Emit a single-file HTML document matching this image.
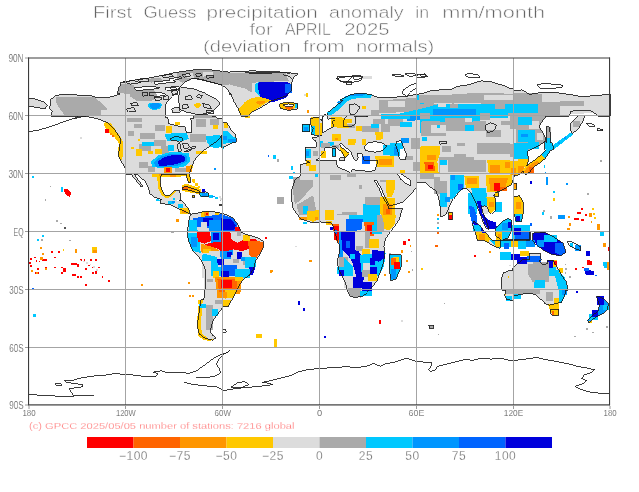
<!DOCTYPE html>
<html><head><meta charset="utf-8"><style>
html,body{margin:0;padding:0;background:#fff;width:639px;height:492px;overflow:hidden}
svg{display:block;will-change:transform}
text{font-family:"Liberation Sans",sans-serif}
</style></head><body>
<svg width="639" height="492" viewBox="0 0 639 492">
<g id="title" fill="#666" stroke="#fff" stroke-width="0.5" font-size="15.6">
<text x="93.10" y="17.5" textLength="39.00" lengthAdjust="spacingAndGlyphs">First</text>
<text x="143.50" y="17.5" textLength="53.00" lengthAdjust="spacingAndGlyphs">Guess</text>
<text x="206.50" y="17.5" textLength="111.20" lengthAdjust="spacingAndGlyphs">precipitation</text>
<text x="329.10" y="17.5" textLength="74.60" lengthAdjust="spacingAndGlyphs">anomaly</text>
<text x="415.30" y="17.5" textLength="13.80" lengthAdjust="spacingAndGlyphs">in</text>
<text x="442.30" y="17.5" textLength="102.80" lengthAdjust="spacingAndGlyphs">mm/month</text>
<text x="249.50" y="34.6" textLength="23.00" lengthAdjust="spacingAndGlyphs">for</text>
<text x="284.90" y="34.6" textLength="46.00" lengthAdjust="spacingAndGlyphs">APRIL</text>
<text x="344.30" y="34.6" textLength="45.20" lengthAdjust="spacingAndGlyphs">2025</text>
<text x="202.90" y="52.1" textLength="87.80" lengthAdjust="spacingAndGlyphs">(deviation</text>
<text x="303.10" y="52.1" textLength="41.40" lengthAdjust="spacingAndGlyphs">from</text>
<text x="355.90" y="52.1" textLength="78.40" lengthAdjust="spacingAndGlyphs">normals)</text>
</g>
<g id="map" shape-rendering="crispEdges">
<path fill="#dcdcdc" d="M28,105.8 34.1,106.9 40.1,108.4 45,109 47.4,105.4 44.7,102.3 40.1,100.8 34.1,98.7 28,97.8Z"/>
<path fill="#dcdcdc" d="M97.8,97.8 90.2,95.4 82.6,95.4 73.5,94.9 64.4,94.1 56.1,95.4 50.8,99.3 50.8,103.5 49.3,108.1 52.3,111.1 50.8,116 120,116 120,94.3 119.1,94.4 113,96 106.9,97.8Z"/>
<path fill="#aaaaaa" d="M56.1,102 58.4,106.6 65.2,116 100.9,116 100.9,110.4 106.9,110.4 106.9,108.1 94.8,97.2 56.1,97.2Z"/>
<path fill="#dcdcdc" d="M120,86.1 119.1,86.8 117.3,93.2 120,93.2Z"/>
<path fill="#aaaaaa" d="M120,86.4 119.1,87.2 117.9,92.6 120,92.6Z"/>
<path fill="#dcdcdc" d="M267.5,103.5 272.1,100.5 285.8,96 291.8,89.9 291.8,82.3 293.3,77.7 297.9,73.9 285.8,72.4 267.5,71.4 252.4,70.9 237.2,71.4 230,71.9 230,91.9 231.1,94.4 234.1,102 237.9,108.1 241,116 247.8,116 252.4,111.9 259.9,108.1Z"/>
<path fill="#aaaaaa" d="M230,84.8 244.8,88.4 252.4,92.9 252.4,83.5 256.9,82.3 288.8,80.8 285.8,73.2 230,73.2Z"/>
<path fill="#00c8ff" d="M267.5,81.5 258.4,82 254.6,84.6 255.4,91.4 259.9,96 267.5,94.4Z"/>
<path fill="#0000dc" d="M257.7,83.1 258.4,89.9 260.7,97.8 266,102 272.1,102.3 285.8,97.8 292.1,89.9 292.1,84.6 285.8,81.5 261.5,81.5Z"/>
<path fill="#0064ff" d="M291.8,92.9 291.8,83.8 285,83.8 285,92.9Z"/>
<path fill="#ffc800" d="M244.8,102 238.4,109.6 240.5,116 248.1,116 252.4,111.4 259.9,106.9 267.5,102.3 270.9,100.5 264.5,97.8 258.4,97.2 252.4,97.8Z"/>
<path fill="#ff9600" d="M255.4,102.3 259.2,104.8 264.5,103.2 266,100.5 259.9,100.5Z"/>
<path fill="#dcdcdc" d="M297.9,103.5 288.8,102.3 279.7,103.5 280.4,108.4 288.8,110.4 297.9,108.9Z"/>
<path fill="#ffc800" d="M296.4,103.5 288.8,102.3 279.7,103.5 280.4,108.4 288.8,110.4 294.9,108.1Z"/>
<path fill="#ffffff" d="M282.7,104.8 285.8,106.9 291.8,106.9 294.1,104.8 288.8,103.9Z"/>
<path fill="#ff6400" d="M294.6,108.1 291.8,106.6 284.2,107.3 288.8,109.9Z"/>
<path fill="#00c8ff" d="M297.9,108.1 297.9,104.3 294.9,103.9 295.2,108.1Z"/>
<path fill="#ffc800" d="M308.1,96.7 308.1,92.9 305.9,92.9 305.9,96.7Z"/>
<path fill="#dcdcdc" d="M305.9,96.3 305.9,94.1 303.7,94.1 303.7,96.3Z"/>
<path fill="#dcdcdc" d="M372.1,78.5 372.1,75.9 361.5,75.9 361.5,78.5Z"/>
<path fill="#dcdcdc" d="M350.9,94.4 339.8,100 416,100 416,94.4 404,96.7 397.9,96.7 388.8,97.5 379.7,97.8 372.1,95.2 361.5,93.2Z"/>
<path fill="#00c8ff" d="M350.9,94.1 339.2,100 350.4,100 352.4,99 361.5,97.8 370.6,97.8 372.1,94.4 361.5,92.9Z"/>
<path fill="#0096ff" d="M361.5,92.9 350.9,94.1 344.8,96.7 352.4,96.3 361.5,96 366.1,94.1Z"/>
<path fill="#aaaaaa" d="M388.7,100 416,100 416,97.8 388.8,99.8Z"/>
<path fill="#dcdcdc" d="M449.4,89.9 440.3,89.9 431.2,90.6 425.1,92.9 416,94.4 416,100 420,100 420,116 513,116 513,88.1 508.6,88.1 502.5,85.3 491.9,82 481.3,80.8 469.1,84.6 458.5,86.1Z"/>
<path fill="#aaaaaa" d="M416,100 420,100 420,116 513,116 513,93.7 476.7,92.9 452.4,94.4 452.4,103.5 434.2,103.5 425.1,97.8 416,97.8Z"/>
<path fill="#dcdcdc" d="M481.3,103.5 479.8,96 453.9,96.7 453.9,103.5Z"/>
<path fill="#dcdcdc" d="M482.8,95.2 482.8,102 507.1,105.1 513,103.5 513,95.2Z"/>
<path fill="#00c8ff" d="M420,100 420,103.5 423.6,103.5 422.1,95.2 416,95.2 416,100Z"/>
<path fill="#00c8ff" d="M426.6,111.1 429.7,116 473.7,116 482.8,109.6 484.3,104.3 469.1,103.5 453.9,104.8 440.3,103.5 429.7,106.6Z"/>
<path fill="#0096ff" d="M476.7,116 476.7,109.6 446.4,110.4 446.4,116Z"/>
<path fill="#00c8ff" d="M504,116 501,110.4 488.9,111.1 488.9,116Z"/>
<path fill="#00c8ff" d="M513,106.6 513,102 507.1,102.8 507.1,106.6Z"/>
<path fill="#dcdcdc" d="M591.9,96 581.3,96.7 573.7,95.2 563.1,93.7 552.5,92.2 543.4,92.2 529.7,94.4 522.1,89.9 513,90.6 513,116 569.2,116 570.7,111.1 584.3,110.4 591.9,111.1 598,116 610,116 610,94.4 601,95.2Z"/>
<path fill="#aaaaaa" d="M560.1,116 560.1,108.1 585.9,108.1 585.9,100.8 541.8,102 541.8,93.7 513,92.6 513,116Z"/>
<path fill="#00c8ff" d="M523.6,111.9 531.2,111.1 536.5,106.6 537.3,102.8 513,102.8 513,105.1 520.6,106.6Z"/>
<path fill="#dcdcdc" d="M125,118 120,118 120,116 80.5,116 89.3,117.1 98.1,118.9 106.9,122.4 115.7,131 120.7,139.2 119.5,146.5 118.3,156.2 124.4,167.2 125,167.6Z"/>
<path fill="#ffc800" d="M121.4,138.8 115.3,129.7 110.7,122.8 104.7,122.1 103.9,125.1 106.9,130.4 114.5,137.3 119.1,143.3 118,149.4 118.8,158.5 121.8,160 123.3,154 123.3,142.6Z"/>
<path fill="#ff0000" d="M108.5,133 108.5,129.4 105,129.4 105,133Z"/>
<path fill="#ff6400" d="M114.1,136.6 114.1,134.5 112.2,134.5 112.2,136.6Z"/>
<path fill="#ff9600" d="M112.2,135 112.2,133 110,133 110,135Z"/>
<path fill="#dcdcdc" d="M81.9,138.8 81.9,137.3 80.4,137.3 80.4,138.8Z"/>
<path fill="#dcdcdc" d="M222,134.5 222,118 190.6,118 191.8,125.1 191,132.7 186.5,132.7 185,126.6 176.6,125.9 169,123.6 167.9,118 125,118 125,174 181,174 189.1,174 192.2,166.3 193.9,161.2 197.3,156.4 202.3,151.4 205.5,148.9 212,144.8 218.7,139.8Z"/>
<path fill="#aaaaaa" d="M141.7,122.1 141.7,118 126.5,118 126.5,122.1Z"/>
<path fill="#aaaaaa" d="M155.4,138.8 155.4,132.7 140.2,132.7 140.2,138.8Z"/>
<path fill="#aaaaaa" d="M150.8,150.9 150.8,144.1 138.7,144.1 138.7,150.9Z"/>
<path fill="#aaaaaa" d="M166,146.4 166,140.3 153.8,140.3 153.8,146.4Z"/>
<path fill="#aaaaaa" d="M169,154 169,146.4 161.4,146.4 161.4,154Z"/>
<path fill="#aaaaaa" d="M205.5,141.8 205.5,134.2 190.3,134.2 190.3,141.8Z"/>
<path fill="#aaaaaa" d="M205.5,126.6 205.5,119 196.3,119 196.3,126.6Z"/>
<path fill="#aaaaaa" d="M147.8,167.6 147.8,161.5 138.7,161.5 138.7,167.6Z"/>
<path fill="#aaaaaa" d="M155.4,172.2 155.4,166.1 147.8,166.1 147.8,172.2Z"/>
<path fill="#aaaaaa" d="M185.7,172.2 185.7,167.6 175.1,167.6 175.1,172.2Z"/>
<path fill="#aaaaaa" d="M134.1,135.7 134.1,131.2 128,131.2 128,135.7Z"/>
<path fill="#aaaaaa" d="M219.1,125.1 219.1,119 210,119 210,125.1Z"/>
<path fill="#aaaaaa" d="M141.7,128.1 141.7,123.6 134.1,123.6 134.1,128.1Z"/>
<path fill="#aaaaaa" d="M164.5,131.2 164.5,125.1 155.4,125.1 155.4,131.2Z"/>
<path fill="#00c8ff" d="M182.7,141.1 188.8,138.8 187.2,133.5 175.1,133 164.5,134.2 167.5,141.1 175.1,141.5Z"/>
<path fill="#00c8ff" d="M153.8,145.6 153.8,141.5 141.7,141.5 141.7,145.6Z"/>
<path fill="#00c8ff" d="M173.6,151.2 173.6,144.8 167.5,144.8 167.5,151.2Z"/>
<path fill="#00c8ff" d="M216.1,148.6 222,146.4 222,135.7 216.1,135 205.5,136.5 207,141.8 210,146.4Z"/>
<path fill="#00c8ff" d="M150.8,161.5 152.3,166.9 164.5,168.4 175.1,168.4 185.7,166.1 190.3,161.5 188.8,153.2 181.2,152.4 169,152.4 158.4,155.5Z"/>
<path fill="#0096ff" d="M155.4,166.4 164.5,167.6 179.6,165.3 187.5,161.5 187.2,155.8 181.9,154 169,154.3 160.7,156.7 153.8,162.3Z"/>
<path fill="#0000dc" d="M159.2,165.5 164.5,165.8 175.1,164.3 184.5,161.5 185.4,157.3 181.2,155.2 172.1,155.2 164.5,157 157.6,161.5Z"/>
<path fill="#ff9600" d="M172.4,174 172.4,166.9 164.2,166.9 164.2,174Z"/>
<path fill="#ff0000" d="M170.2,171.9 170.2,167.9 166,167.9 166,171.9Z"/>
<path fill="#ff9600" d="M191.8,172.2 191.8,166.1 185.7,166.1 185.7,172.2Z"/>
<path fill="#ffc800" d="M192.6,167.6 192.6,164.6 189.5,164.6 189.5,167.6Z"/>
<path fill="#ffc800" d="M141.7,155.5 141.7,148.6 135.6,148.6 135.6,155.5Z"/>
<path fill="#ffc800" d="M153.1,154 153.1,150.9 147.8,150.9 147.8,154Z"/>
<path fill="#ffc800" d="M162.2,154 162.2,148.6 155.4,148.6 155.4,154Z"/>
<path fill="#ffc800" d="M172.1,132.7 172.1,125.9 166,125.9 166,132.7Z"/>
<path fill="#ffc800" d="M180,124.8 180,121.8 175.1,121.8 175.1,124.8Z"/>
<path fill="#ffc800" d="M217.9,128.9 217.9,125.4 213,125.4 213,128.9Z"/>
<path fill="#ffc800" d="M207,154 207,150.9 196.3,150.9 196.3,154Z"/>
<path fill="#ffc800" d="M133.8,149.4 133.8,147.1 131.1,147.1 131.1,149.4Z"/>
<path fill="#ffc800" d="M140.2,141.1 140.2,138.8 138.4,138.8 138.4,141.1Z"/>
<path fill="#0096ff" d="M216.1,169.9 216.1,167.6 213.8,167.6 213.8,169.9Z"/>
<path fill="#dcdcdc" d="M225,146.4 231.1,143.3 236.4,141.8 235.7,134.2 231.1,129.7 226.6,122.8 222,122.1 222,147.9Z"/>
<path fill="#ffc800" d="M228.1,128.1 228.1,122.8 223.5,122.8 223.5,128.1Z"/>
<path fill="#00c8ff" d="M235.7,143 236,138.8 232.6,135.7 228.1,131.2 222,131.2 222,144.8 228.1,143Z"/>
<path fill="#0096ff" d="M226.6,140.3 226.6,135.7 222,135.7 222,140.3Z"/>
<path fill="#0096ff" d="M235.7,142.1 235.7,138.8 228.1,138.8 228.1,142.1Z"/>
<path fill="#00c8ff" d="M224.3,148.6 224.3,145.6 222,145.6 222,148.6Z"/>
<path fill="#ffc800" d="M250.1,117.5 250.1,116 244.8,116 244.8,117.5Z"/>
<path fill="#0064ff" d="M269.4,156.5 269.4,154.7 267.5,154.7 267.5,156.5Z"/>
<path fill="#00c8ff" d="M275.9,158.5 275.9,154.7 272.9,154.7 272.9,158.5Z"/>
<path fill="#aaaaaa" d="M278.9,161.5 278.9,158.5 277.4,158.5 277.4,161.5Z"/>
<path fill="#00c8ff" d="M293.3,169.9 293.3,166.1 290.6,166.1 290.6,169.9Z"/>
<path fill="#00c8ff" d="M294.9,174 294.9,171.9 293.3,171.9 293.3,174Z"/>
<path fill="#dcdcdc" d="M420,116 420,174 440,174 440,160 509.9,160 509.9,116 513,116 513,116Z"/>
<path fill="#aaaaaa" d="M446.4,135.7 446.4,120.6 420.6,120.6 420.6,135.7Z"/>
<path fill="#aaaaaa" d="M485.8,131.2 485.8,120.6 446.4,120.6 446.4,131.2Z"/>
<path fill="#aaaaaa" d="M473.7,157 438.8,157 438.8,174 440,174 440,160 473.7,160Z"/>
<path fill="#aaaaaa" d="M464.6,146.4 464.6,135.7 457,135.7 457,146.4Z"/>
<path fill="#aaaaaa" d="M450.9,152.4 450.9,146.4 441.8,146.4 441.8,152.4Z"/>
<path fill="#aaaaaa" d="M501,137.3 501,129.7 485.8,129.7 485.8,137.3Z"/>
<path fill="#aaaaaa" d="M509.9,154 509.9,143.3 476.7,143.3 476.7,154Z"/>
<path fill="#aaaaaa" d="M509.9,125.1 509.9,120.6 501,120.6 501,125.1Z"/>
<path fill="#aaaaaa" d="M466.1,160 466.1,154 453.9,154 453.9,160Z"/>
<path fill="#dcdcdc" d="M446.4,132.7 446.4,125.1 431.2,125.1 431.2,132.7Z"/>
<path fill="#dcdcdc" d="M473.7,143.3 473.7,131.2 446.4,131.2 446.4,143.3Z"/>
<path fill="#00c8ff" d="M446.4,122.1 466.1,122.1 482.8,120.6 484.3,116 420,116 420,121.7 431.2,120.6Z"/>
<path fill="#0096ff" d="M434.2,119 434.2,116 423.6,116 423.6,119Z"/>
<path fill="#00c8ff" d="M420.6,132.7 420.6,122.1 420,122.1 420,132.7Z"/>
<path fill="#00c8ff" d="M473.7,131.2 473.7,125.1 464.6,125.1 464.6,131.2Z"/>
<path fill="#00c8ff" d="M440.3,128.1 440.3,125.1 437.3,125.1 437.3,128.1Z"/>
<path fill="#00c8ff" d="M426.6,141.1 426.6,137.3 422.1,137.3 422.1,141.1Z"/>
<path fill="#00c8ff" d="M423.6,158.5 423.6,154 420.6,154 420.6,158.5Z"/>
<path fill="#ffc800" d="M420,174 438.8,174 437.3,161.5 440.3,152.4 440.3,146.4 420.6,146.4 420,149.7Z"/>
<path fill="#ff9600" d="M435.7,160 435.7,154.7 426.6,154.7 426.6,160Z"/>
<path fill="#ff6400" d="M435,170.7 434.2,162.3 424.3,162.3 425.1,170.7Z"/>
<path fill="#ff0000" d="M432.7,169.1 432.7,164.6 428.1,164.6 428.1,169.1Z"/>
<path fill="#dcdcdc" d="M513,116 513,116 549.4,116 549.4,116Z"/>
<path fill="#aaaaaa" d="M513,116 513,116 549.4,116 549.4,116Z"/>
<path fill="#dcdcdc" d="M576.8,116 576.7,116 584.3,116 584.3,116Z"/>
<path fill="#00c8ff" d="M34.1,177.8 34.1,175.5 31.8,175.5 31.8,177.8Z"/>
<path fill="#00c8ff" d="M62.9,191.5 62.9,187.4 61.1,187.4 61.1,191.5Z"/>
<path fill="#ff0000" d="M71.3,193 67.8,188.9 63.7,189.2 64.4,192.2 67.2,196 69.7,196.8Z"/>
<path fill="#aaaaaa" d="M51.1,186.8 51.1,185.7 50,185.7 50,186.8Z"/>
<path fill="#aaaaaa" d="M46.2,200.6 46.2,199.1 45,199.1 45,200.6Z"/>
<path fill="#aaaaaa" d="M57.6,221.5 57.6,220.3 56.4,220.3 56.4,221.5Z"/>
<path fill="#aaaaaa" d="M61.7,224.1 61.7,222.6 60.2,222.6 60.2,224.1Z"/>
<path fill="#555555" d="M65.9,229 65.9,227.4 64.4,227.4 64.4,229Z"/>
<path fill="#dcdcdc" d="M164.5,199.8 164.8,200 175.5,200 175.6,199.8 164.4,199.8Z"/>
<path fill="#ffc800" d="M183.4,174 184.1,175.9 189.1,175.9 188.8,174Z"/>
<path fill="#00c8ff" d="M175.1,199.8 170.5,199.8 170.5,200 175.1,200Z"/>
<path fill="#00c8ff" d="M181,200 181,200 179.6,199.8 179.6,200Z"/>
<path fill="#00c8ff" d="M160.2,200 160.2,199.8 156.9,199.8 156.9,201.3 160,201.3 160,200Z"/>
<path fill="#dcdcdc" d="M222,205.5 222,204.4 219.4,205Z"/>
<path fill="#dcdcdc" d="M319,180 300,180 300,176 294.9,180.1 291.8,189.2 291.8,201.3 293.3,209.2 297.9,215.3 300.9,219.2 307,221.4 313.1,222.9 319,222.6Z"/>
<path fill="#aaaaaa" d="M313.1,186.1 313.1,180 300,180 300,177 293.3,177 292.6,189.2 294.9,204.4 300.9,199.8Z"/>
<path fill="#aaaaaa" d="M296.4,205.1 299.4,215 308.5,215 316.1,210.4 313.1,195.3Z"/>
<path fill="#00c8ff" d="M307.8,213.5 307.8,205.9 303.2,205.9 303.2,213.5Z"/>
<path fill="#ffc800" d="M307,211.2 307,219.5 313.1,221.8 319,219.5 319,210.1Z"/>
<path fill="#ff9600" d="M307,219.5 307,216.5 299.4,216.5 299.4,219.5Z"/>
<path fill="#ff9600" d="M317.6,219.5 317.6,216.5 314.6,216.5 314.6,219.5Z"/>
<path fill="#00c8ff" d="M307,224.1 307,221.8 303.2,221.8 303.2,224.1Z"/>
<path fill="#00c8ff" d="M293.3,179.3 293.3,175.8 288.8,175.8 288.8,179.3Z"/>
<path fill="#aaaaaa" d="M283.5,204.4 283.5,196.8 277.4,196.8 277.4,204.4Z"/>
<path fill="#dcdcdc" d="M319,218 320,218.2 320,215 400.1,215 402.6,208.8 404,204.4 402,202.5 410.1,195.3 416,188 416,180 319,180Z"/>
<path fill="#ffffff" d="M376.7,181.1 376.2,180 374.2,180 374.9,181.6 379.7,189.5 383.1,197.1 386.6,202.8 388.5,207.1 390,206.5 388.1,202.4 384.7,196.6 381.5,189Z"/>
<path fill="#ffffff" d="M389,206.2 388.8,209.1 402.6,208.8 404,204.4 402,202.5Z"/>
<path fill="#aaaaaa" d="M379.7,205.9 379.7,196.8 364.5,196.8 364.5,205.9Z"/>
<path fill="#aaaaaa" d="M361.5,189.2 361.5,184.6 358.5,184.6 358.5,189.2Z"/>
<path fill="#aaaaaa" d="M356.9,215 356.9,212 341.8,212 341.8,215Z"/>
<path fill="#aaaaaa" d="M341.8,215 341.8,213.5 337.2,213.5 337.2,215Z"/>
<path fill="#aaaaaa" d="M385.8,181.6 385.8,180 379.7,180 379.7,181.6Z"/>
<path fill="#00c8ff" d="M379.7,215 379.7,205.1 363,204.4 363,215Z"/>
<path fill="#ffc800" d="M394.9,180 385.8,180 385.8,189.2 387.3,196.8 391.9,196.8 394.9,189.2Z"/>
<path fill="#ffc800" d="M379.7,213.5 381.2,215 394.9,215 394.9,198.3 379.7,196.8Z"/>
<path fill="#ff9600" d="M391.9,215 391.9,204.4 382.8,204.4 382.8,215Z"/>
<path fill="#ff6400" d="M390.3,213.5 390.3,208.9 385.8,208.9 385.8,213.5Z"/>
<path fill="#ffc800" d="M334.2,215 334.2,210.4 325.1,210.4 325.1,215Z"/>
<path fill="#dcdcdc" d="M416,180 416,182.4 425.1,182.4 431.2,187.7 435.7,190.7 438.8,198.3 440,205.7 440,174 420,174 420,180Z"/>
<path fill="#aaaaaa" d="M434.2,178.6 434.2,174 420,174 420,178.6Z"/>
<path fill="#aaaaaa" d="M440,193.7 440,177 434.2,177 434.2,193.7Z"/>
<path fill="#ff9600" d="M438.8,215.8 438.8,214.2 437.3,214.2 437.3,215.8Z"/>
<path fill="#00c8ff" d="M438.8,219.5 438.8,218 437.3,218 437.3,219.5Z"/>
<path fill="#aaaaaa" d="M438.8,223.8 438.8,222.3 437.3,222.3 437.3,223.8Z"/>
<path fill="#00c8ff" d="M438.8,228.7 438.8,227.1 437.3,227.1 437.3,228.7Z"/>
<path fill="#ffc800" d="M438.8,232 438.8,230.5 437.3,230.5 437.3,232Z"/>
<path fill="#00c8ff" d="M530,232 530,225.6 530,225.6 530,232Z"/>
<path fill="#0064ff" d="M530,232 530,227.9 530,227.9 530,232Z"/>
<path fill="#00c8ff" d="M43.5,237.2 43.5,235.3 41.7,235.3 41.7,237.2Z"/>
<path fill="#00c8ff" d="M38.9,241.1 38.9,239.3 36.8,239.3 36.8,241.1Z"/>
<path fill="#aaaaaa" d="M42.7,241.1 42.7,239.3 40.9,239.3 40.9,241.1Z"/>
<path fill="#aaaaaa" d="M71,241.1 71,239.6 69.4,239.6 69.4,241.1Z"/>
<path fill="#ff9600" d="M42,248.7 42,246.9 40.1,246.9 40.1,248.7Z"/>
<path fill="#ff9600" d="M43.5,254.8 43.5,253.3 42,253.3 42,254.8Z"/>
<path fill="#ffc800" d="M64.4,250.8 64.4,249 62.9,249 62.9,250.8Z"/>
<path fill="#ff9600" d="M77.3,252.5 77.3,248.7 75.4,248.7 75.4,252.5Z"/>
<path fill="#ffc800" d="M96.6,252.5 96.6,247.2 91.8,247.2 91.8,252.5Z"/>
<path fill="#ff9600" d="M96.6,252.5 96.6,249.5 93.3,249.5 93.3,252.5Z"/>
<path fill="#ff0000" d="M53,252.6 53,250.8 51.1,250.8 51.1,252.6Z"/>
<path fill="#ff0000" d="M60,252.6 60,250.8 58.1,250.8 58.1,252.6Z"/>
<path fill="#ff0000" d="M56.2,258.4 56.2,256.6 54.4,256.6 54.4,258.4Z"/>
<path fill="#ff0000" d="M35.6,258.4 35.6,256.6 33.8,256.6 33.8,258.4Z"/>
<path fill="#ff0000" d="M31.9,260.2 31.9,258.1 29.8,258.1 29.8,260.2Z"/>
<path fill="#ff0000" d="M31.3,264.2 31.3,262.1 29.2,262.1 29.2,264.2Z"/>
<path fill="#ff0000" d="M31.9,267.2 31.9,265.4 29.8,265.4 29.8,267.2Z"/>
<path fill="#ff0000" d="M37.4,262.1 37.4,260.1 35.6,260.1 35.6,262.1Z"/>
<path fill="#ff0000" d="M40.4,262.4 40.4,260.5 38.6,260.5 38.6,262.4Z"/>
<path fill="#ff0000" d="M47,260.5 47,258.6 41.7,258.6 41.7,260.5Z"/>
<path fill="#ff9600" d="M43.2,259.6 43.2,257.1 40.1,257.1 40.1,259.6Z"/>
<path fill="#ff0000" d="M76.9,264.6 76.9,262.7 70.8,262.7 70.8,264.6Z"/>
<path fill="#ff0000" d="M79.2,266.5 79.2,264.3 77.3,264.3 77.3,266.5Z"/>
<path fill="#ff0000" d="M82.2,260.5 82.2,258.7 80.4,258.7 80.4,260.5Z"/>
<path fill="#ff0000" d="M85.4,260.5 85.4,258.7 83.6,258.7 83.6,260.5Z"/>
<path fill="#ff0000" d="M92.1,260.5 92.1,258.7 90.2,258.7 90.2,260.5Z"/>
<path fill="#ff0000" d="M96.9,260.5 96.9,258.7 95.1,258.7 95.1,260.5Z"/>
<path fill="#ff0000" d="M89.9,266.3 89.9,264.5 88.1,264.5 88.1,266.3Z"/>
<path fill="#ff0000" d="M93.6,268.4 93.6,266.6 91.8,266.6 91.8,268.4Z"/>
<path fill="#ff0000" d="M100,268.4 100,266.6 98.1,266.6 98.1,268.4Z"/>
<path fill="#ff0000" d="M87.2,270 87.2,268.1 85.4,268.1 85.4,270Z"/>
<path fill="#ff0000" d="M63.2,268.4 63.2,266.6 61.4,266.6 61.4,268.4Z"/>
<path fill="#ff0000" d="M56.2,268.4 56.2,266.6 54.4,266.6 54.4,268.4Z"/>
<path fill="#ff0000" d="M65.6,271.8 65.6,268.4 62.9,268.4 62.9,271.8Z"/>
<path fill="#ff0000" d="M63.2,274.2 63.2,271.8 61.1,271.8 61.1,274.2Z"/>
<path fill="#ff0000" d="M75.8,276 75.8,274.2 72,274.2 72,276Z"/>
<path fill="#ff0000" d="M79,277.9 79,276 76.9,276 76.9,277.9Z"/>
<path fill="#ff0000" d="M82,277.9 82,276 80.2,276 80.2,277.9Z"/>
<path fill="#ff0000" d="M93.6,273.8 93.6,271.8 91.8,271.8 91.8,273.8Z"/>
<path fill="#ff0000" d="M96.9,273.9 96.9,271.2 95.1,271.2 95.1,273.9Z"/>
<path fill="#ff0000" d="M103.3,277.9 103.3,276 101.5,276 101.5,277.9Z"/>
<path fill="#ff0000" d="M110,281.8 110,280 108.2,280 108.2,281.8Z"/>
<path fill="#ff0000" d="M87.2,285.7 87.2,283.9 85.1,283.9 85.1,285.7Z"/>
<path fill="#ff0000" d="M38.9,270.3 38.9,268.4 36.8,268.4 36.8,270.3Z"/>
<path fill="#ff0000" d="M38.6,274.2 38.6,271.8 35.3,271.8 35.3,274.2Z"/>
<path fill="#ff0000" d="M47.4,269.4 47.4,266.6 45,266.6 45,269.4Z"/>
<path fill="#ff9600" d="M32.6,272.1 32.6,270.3 30.7,270.3 30.7,272.1Z"/>
<path fill="#ff9600" d="M37.9,274.2 37.9,272.2 35.6,272.2 35.6,274.2Z"/>
<path fill="#ff9600" d="M47,269.7 47,267.7 45,267.7 45,269.7Z"/>
<path fill="#dcdcdc" d="M81.4,261 81.4,259.8 79.6,259.8 79.6,261Z"/>
<path fill="#dcdcdc" d="M84.5,262.4 84.5,261.3 83,261.3 83,262.4Z"/>
<path fill="#dcdcdc" d="M88,263.6 88,262.4 86.4,262.4 86.4,263.6Z"/>
<path fill="#dcdcdc" d="M91,265.1 91,263.9 89.5,263.9 89.5,265.1Z"/>
<path fill="#dcdcdc" d="M94.8,267.7 94.8,266.2 93.3,266.2 93.3,267.7Z"/>
<path fill="#dcdcdc" d="M97.8,270.7 97.8,269.2 96.3,269.2 96.3,270.7Z"/>
<path fill="#0064ff" d="M33.5,289.4 33.5,287.6 31.9,287.6 31.9,289.4Z"/>
<path fill="#ff9600" d="M142.9,286.1 142.9,284.1 140.9,284.1 140.9,286.1Z"/>
<path fill="#dcdcdc" d="M296.7,247.2 296.7,245.7 295.2,245.7 295.2,247.2Z"/>
<path fill="#ff9600" d="M311.6,262.4 311.6,260.1 309.3,260.1 309.3,262.4Z"/>
<path fill="#ff9600" d="M272.7,272.1 272.7,270.3 270.9,270.3 270.9,272.1Z"/>
<path fill="#ff6400" d="M438.5,233.5 438.5,232 436.5,232 436.5,233.5Z"/>
<path fill="#ff6400" d="M437.6,247.2 437.6,245.1 435.4,245.1 435.4,247.2Z"/>
<path fill="#ff0000" d="M476.3,256.9 476.3,254.8 474.1,254.8 474.1,256.9Z"/>
<path fill="#ff9600" d="M490.7,253 490.7,250.8 488.6,250.8 488.6,253Z"/>
<path fill="#ffc800" d="M422.8,270.3 422.8,268.1 420.9,268.1 420.9,270.3Z"/>
<path fill="#dcdcdc" d="M511,266.3 511,264.5 509.2,264.5 509.2,266.3Z"/>
<path fill="#dcdcdc" d="M500,240.1 513,240.1 513,240 483,240 487.3,242.6 496.5,247.2 500,248.2Z"/>
<path fill="#ffc800" d="M488.9,242.6 488.9,240 482.3,240Z"/>
<path fill="#00c8ff" d="M500,240.1 513,240.1 513,240 490.4,240 490.4,241.1 496.5,247.2 500,248.2Z"/>
<path fill="#ffc800" d="M500,247.2 500,241.1 494.9,241.1 494.9,247.2Z"/>
<path fill="#dcdcdc" d="M513,270 508.6,270.7 503.3,273 501,280.6 501.8,290 513,290Z"/>
<path fill="#ffc800" d="M509.4,277.9 509.4,276 507.5,276 507.5,277.9Z"/>
<path fill="#dcdcdc" d="M530,232 530,232 530,240 513,240 513,240.1 530,240.1Z"/>
<path fill="#00c8ff" d="M530,232 530,232 530,240 513,240 513,240.1 530,240.1Z"/>
<path fill="#ffc800" d="M513,240 513,240.1 522.1,240.1 522.1,240Z"/>
<path fill="#ff9600" d="M514.5,240 514.5,240.1 519.1,240.1 519.1,240Z"/>
<path fill="#dcdcdc" d="M522.1,240 522.1,240.1 528.2,240.1 528.2,240Z"/>
<path fill="#dcdcdc" d="M539.6,262.4 539.3,260 522.2,260 519.1,262.4 513,268.4 513,290 568,290 566.1,280.6 561.6,274.5 557,266.9 552.9,260 547.5,260 547.2,263.9 543.4,264.6Z"/>
<path fill="#aaaaaa" d="M528.2,263.9 528.2,274.5 532.7,282.1 549.4,282.1 549.4,263.9Z"/>
<path fill="#00c8ff" d="M555.5,276 555.5,266.9 543.4,266.9 543.4,276Z"/>
<path fill="#00c8ff" d="M544.9,288.2 544.9,280.6 534.3,280.6 534.3,288.2Z"/>
<path fill="#00c8ff" d="M564.6,277.5 558.5,270 552.5,270 555.5,277.5 558.5,290 568,290Z"/>
<path fill="#0000dc" d="M552.5,268.4 552.5,260 546.6,260 547.2,268.4Z"/>
<path fill="#ffc800" d="M557,266.9 557,260 552.5,260 552.5,266.9Z"/>
<path fill="#ff0000" d="M557,265.4 557,260.8 554,260.8 554,265.4Z"/>
<path fill="#ffc800" d="M563.1,273 563.1,268.4 558.5,268.4 558.5,273Z"/>
<path fill="#00c8ff" d="M525.1,260.8 525.1,260 517.6,260 517.6,260.8Z"/>
<path fill="#0000dc" d="M522.1,262.4 522.1,260 517.6,260 517.6,262.4Z"/>
<path fill="#0000dc" d="M593.5,275.3 593.5,270.7 584.3,270 585.9,275.3Z"/>
<path fill="#0064ff" d="M588.9,270.7 588.9,268.4 584.3,268.4 584.3,270.7Z"/>
<path fill="#ff0000" d="M591.9,265.4 591.9,260.8 587.4,260.1 587.4,265.4Z"/>
<path fill="#00c8ff" d="M591.9,260.1 591.9,260 588.1,260 588.1,260.1Z"/>
<path fill="#ff0000" d="M577.1,270 577.1,268.1 575.2,268.1 575.2,270Z"/>
<path fill="#ff0000" d="M583.9,268.4 583.9,266.6 582.1,266.6 582.1,268.4Z"/>
<path fill="#aaaaaa" d="M566.1,265.4 566.1,263.9 564.6,263.9 564.6,265.4Z"/>
<path fill="#aaaaaa" d="M566.9,270 566.9,268.4 565.4,268.4 565.4,270Z"/>
<path fill="#aaaaaa" d="M566.1,273.8 566.1,272.2 564.6,272.2 564.6,273.8Z"/>
<path fill="#aaaaaa" d="M570.7,277.5 570.7,276 569.2,276 569.2,277.5Z"/>
<path fill="#0064ff" d="M596.8,276.3 596.8,274.5 595,274.5 595,276.3Z"/>
<path fill="#00c8ff" d="M610,268.4 610,261.6 602.6,262.4 604.1,268.4Z"/>
<path fill="#ff9600" d="M610,270 610,262.4 607.1,262.4 607.1,270Z"/>
<path fill="#00c8ff" d="M35.6,316.6 35.6,314.3 33.3,314.3 33.3,316.6Z"/>
<path fill="#dcdcdc" d="M210,331 211.5,326.4 213,320.4 216.1,315.8 222,308.2 222,300 200.8,300 199.4,308.2 197.9,320.4 197.6,328 199.4,334 205.5,338.6 211.5,340.1 216.1,337.4 213,335.5Z"/>
<path fill="#ffc800" d="M201.7,312.8 202.8,300 198.2,300 198.6,305.2 197.1,320.4 197.9,335.5 203.9,340.1 210,340.9 213,339.3 208.5,338.6 202.4,334 200.9,328Z"/>
<path fill="#aaaaaa" d="M213,329.5 213,305.2 205.5,305.2 205.5,329.5Z"/>
<path fill="#aaaaaa" d="M222,303.7 222,300 214.6,300 214.6,303.7Z"/>
<path fill="#00c8ff" d="M205.5,307.5 205.5,304.4 199.4,304.4 199.4,307.5Z"/>
<path fill="#00c8ff" d="M217.6,315.8 217.6,309 211.5,309 211.5,315.8Z"/>
<path fill="#dcdcdc" d="M222,300 222,306.7 228.1,306.7 231.1,300.6 231.7,300Z"/>
<path fill="#ffc800" d="M222,300 222,306.7 228.1,306.7 231.1,300.6 231.7,300Z"/>
<path fill="#0000dc" d="M300.2,305.2 300.2,300.6 297.9,300.6 297.9,305.2Z"/>
<path fill="#0000dc" d="M304.7,310.5 304.7,308.2 303.2,308.2 303.2,310.5Z"/>
<path fill="#ffc800" d="M262.2,337.8 262.2,334 256.2,334 256.2,337.8Z"/>
<path fill="#ffc800" d="M277.4,346.9 277.4,339.3 274.4,339.3 274.4,346.9Z"/>
<path fill="#ff0000" d="M380.9,324.2 380.9,320.4 379,320.4 379,324.2Z"/>
<path fill="#0000dc" d="M325.8,337.8 325.8,335.5 324,335.5 324,337.8Z"/>
<path fill="#dcdcdc" d="M402.8,322.2 402.8,320.4 401,320.4 401,322.2Z"/>
<path fill="#dcdcdc" d="M505.6,290 504.8,296.1 506.3,299.1 513,300.6 513,290Z"/>
<path fill="#00c8ff" d="M511.6,300.6 511.6,296.1 505.6,296.1 505.6,300.6Z"/>
<path fill="#ffc800" d="M506,295.3 506,293.8 504.5,293.8 504.5,295.3Z"/>
<path fill="#aaaaaa" d="M433,327.7 433,325.7 429.4,325.7 429.4,327.7Z"/>
<path fill="#aaaaaa" d="M444.8,304.3 444.8,303.1 443.6,303.1 443.6,304.3Z"/>
<path fill="#aaaaaa" d="M438.8,335.2 438.8,334 437.6,334 437.6,335.2Z"/>
<path fill="#dcdcdc" d="M561.6,302.1 564.6,296.1 566.1,290 513,290 513,296.1 520.6,294.6 528.2,293 535.8,294.6 540.3,299.1 543.4,300.6 544.9,303.7 549.4,305.2 555.5,303.7Z"/>
<path fill="#aaaaaa" d="M535.8,292.3 535.8,290 513,290 513,292.3Z"/>
<path fill="#00c8ff" d="M520.6,299.1 520.6,290 513,290 513,299.1Z"/>
<path fill="#00c8ff" d="M558.5,290 558.5,303.7 561.6,302.9 564.6,296.1 566.9,290Z"/>
<path fill="#0096ff" d="M566.9,294.6 566.9,290 561.6,290 561.6,294.6Z"/>
<path fill="#aaaaaa" d="M552.5,300.6 552.5,291.5 546.4,291.5 546.4,300.6Z"/>
<path fill="#ffc800" d="M558.5,303.7 558.5,297.6 554,297.6 554,303.7Z"/>
<path fill="#dcdcdc" d="M550.2,309.7 550.9,314.3 554,316.1 558.5,315.1 558.5,309.4Z"/>
<path fill="#ffc800" d="M559.3,309.7 558.5,303.7 547.9,303.7 550.2,311.3 554,316.1 558.5,315.1Z"/>
<path fill="#ff6400" d="M554,315.1 554,311.3 551.7,311.3 551.7,315.1Z"/>
<path fill="#dcdcdc" d="M608.6,303.7 604.1,299.1 596.5,296.1 599.5,305.2 598,311.3 591.9,315.8 587.4,320.4 588.9,322.6 593.5,318.8 598,315.8 604.1,312.8 607.1,309.7Z"/>
<path fill="#0096ff" d="M608.6,303.7 604.1,299.1 596.5,296.1 599.5,305.2 598,311.3 591.9,315.8 587.4,320.4 588.9,322.6 593.5,318.8 598,315.8 604.1,312.8 607.1,309.7Z"/>
<path fill="#0000dc" d="M604.1,305.2 604.1,296.1 596.5,296.1 596.5,305.2Z"/>
<path fill="#00c8ff" d="M598,320.4 598,314.3 588.9,314.3 588.9,320.4Z"/>
<path fill="#0000dc" d="M598,317.3 598,309.7 591.9,309.7 591.9,317.3Z"/>
<path fill="#00c8ff" d="M608.6,309.7 608.6,305.2 602.6,305.2 602.6,309.7Z"/>
<path fill="#ffc800" d="M591.9,323.4 591.9,321.1 588.9,321.1 588.9,323.4Z"/>
<path fill="#0000dc" d="M577.5,293.3 577.5,291.2 576,291.2 576,293.3Z"/>
<path fill="#aaaaaa" d="M588.1,329.6 588.1,328.4 585.9,328.4 585.9,329.6Z"/>
<path fill="#aaaaaa" d="M593.5,333.4 593.5,332.2 591.9,332.2 591.9,333.4Z"/>
<path fill="#aaaaaa" d="M575.5,337.2 575.5,336 574.3,336 574.3,337.2Z"/>
<path fill="#aaaaaa" d="M607.9,328 607.9,326.4 606.4,326.4 606.4,328Z"/>
<path fill="#dcdcdc" d="M204.8,291.5 203.7,300 232.2,300 235.3,293.5 239.3,285.4 243.4,279.3 249.5,275.2 253.6,269.1 255.6,261 260.7,252.8 263.8,246.7 263.8,241.7 257.7,237.6 249.5,235.6 241.4,232.5 239.3,228.5 237.3,223.4 233.2,218.3 225.1,214.2 217,212.2 208.8,211.2 200.7,212.2 190.5,214.2 188.5,222.4 187.5,232.5 188.5,240.7 192.6,250.8 198.7,256.9 202.7,263 205.8,271.1 205.8,281.3Z"/>
<path fill="#ffc800" d="M200.7,218.3 209.8,218.3 208.8,211.2 200.7,212.2Z"/>
<path fill="#ff9600" d="M204.4,215.9 209.2,215.9 209.2,211.8 204.4,211.8Z"/>
<path fill="#ff0000" d="M205.6,214.6 208.4,214.6 208.4,212.6 205.6,212.6Z"/>
<path fill="#ffc800" d="M214.5,218.3 219.4,218.3 219.4,212.2 214.5,212.2Z"/>
<path fill="#0064ff" d="M206.8,216.3 192.6,218.3 192.6,226.8 200.7,226.8 210.9,228.9 223.1,230.9 235.3,230.5 237.3,224.4 233.2,218.3 221,214.2Z"/>
<path fill="#0000dc" d="M202.7,226.4 212.9,226.4 212.9,218.3 202.7,218.3Z"/>
<path fill="#0000dc" d="M231.2,219.3 221,218.3 221,230.1 234.3,230.1 235.7,225.4Z"/>
<path fill="#00c8ff" d="M188.5,230.5 197.6,230.5 196.6,220.3 189.5,220.3Z"/>
<path fill="#dcdcdc" d="M200.7,228.5 206.8,228.5 206.8,222.4 200.7,222.4Z"/>
<path fill="#0096ff" d="M208.8,230.5 221,230.5 221,220.3 208.8,220.3Z"/>
<path fill="#ff0000" d="M234.9,230.9 239.7,230.9 239.7,227.4 234.9,227.4Z"/>
<path fill="#00c8ff" d="M198.7,232.5 188.1,232.5 188.5,240.7 192.6,250.8 200.7,252.8Z"/>
<path fill="#0096ff" d="M190.5,247.2 197,247.2 197,236.6 190.5,236.6Z"/>
<path fill="#ff0000" d="M209.8,230.9 196.6,232.1 198.2,241.7 204.8,243.7 211.3,240.7Z"/>
<path fill="#0096ff" d="M211.3,242.7 221,242.7 221,230.5 211.3,230.5Z"/>
<path fill="#0000dc" d="M213.3,239.6 219,239.6 219,232.5 213.3,232.5Z"/>
<path fill="#ff0000" d="M229.6,253.3 233.2,249.2 241.4,251.2 249.5,248.8 258.1,242.7 256,238.6 245.4,238.6 237.3,242.7 231.6,239.6 230.2,230.5 221,230.5 221,241.7 210.9,242.7 203.1,245.1 207.2,249.2 213.3,247.2 219.4,249.2 221.4,257.3 225.5,259.3Z"/>
<path fill="#ff9600" d="M219,253.3 219,249.8 213.3,247.2 200.7,243.7 200.7,252.4 208.8,253.3Z"/>
<path fill="#ffc800" d="M202.7,253.3 210.9,253.3 210.9,248.8 202.7,248.8Z"/>
<path fill="#ff6400" d="M262.7,241.7 247.9,240.7 249.5,255.3 255.6,259.3 262.7,248.8Z"/>
<path fill="#dcdcdc" d="M233.2,240.2 245.4,240.2 245.4,234.1 233.2,234.1Z"/>
<path fill="#aaaaaa" d="M237.3,235.6 241.4,235.6 241.4,230.5 237.3,230.5Z"/>
<path fill="#ffc800" d="M243.4,240.7 249.5,240.7 249.5,234.6 243.4,234.6Z"/>
<path fill="#dcdcdc" d="M208.8,259.3 219,259.3 219,250.8 208.8,250.8Z"/>
<path fill="#0000dc" d="M217,265.4 223.5,265.4 223.5,258.9 217,258.9Z"/>
<path fill="#00c8ff" d="M217,256.9 202.7,253.3 201.7,261 205.8,270.1 218,269.1Z"/>
<path fill="#0096ff" d="M221,259.3 233.2,259.3 233.2,250.4 219.4,250.8Z"/>
<path fill="#0000dc" d="M227.1,256.5 231.6,256.5 231.6,251.8 227.1,251.8Z"/>
<path fill="#dcdcdc" d="M249.5,254.5 231.2,255.3 231.2,267.1 237.3,270.1 249.5,269.1Z"/>
<path fill="#aaaaaa" d="M233.2,263 239.3,263 239.3,258.9 233.2,258.9Z"/>
<path fill="#aaaaaa" d="M243.4,265 247.5,265 247.5,261 243.4,261Z"/>
<path fill="#0000dc" d="M237.3,258.9 241.8,258.9 241.8,252.4 237.3,252.4Z"/>
<path fill="#0096ff" d="M241.4,261 245.9,261 245.9,256.9 241.4,256.9Z"/>
<path fill="#00c8ff" d="M245.4,268.1 255.6,267.1 255.6,257.3 245.4,256.9Z"/>
<path fill="#0000dc" d="M248.5,275.2 252.6,275.2 255.6,267.1 249.5,267.1Z"/>
<path fill="#0064ff" d="M221,276.2 237.7,275.6 237.3,265.4 221,265Z"/>
<path fill="#0000dc" d="M221,277.6 229.2,277.6 229.2,270.7 221,270.7Z"/>
<path fill="#00c8ff" d="M210.9,275.6 221,275.6 221,267.1 210.9,267.1Z"/>
<path fill="#dcdcdc" d="M201.7,278.3 210.9,278.3 210.9,261 201.7,261Z"/>
<path fill="#00c8ff" d="M235.3,277.6 249.5,277.6 249.5,269.1 235.3,269.1Z"/>
<path fill="#ffc800" d="M212.9,277.6 219,277.6 219,271.1 212.9,271.1Z"/>
<path fill="#dcdcdc" d="M203.7,300 221,300 219,278.3 203.7,278.3Z"/>
<path fill="#ff9600" d="M241.4,277.2 214.9,277.2 217,293.9 227.1,295.5 240.4,293.5Z"/>
<path fill="#ff6400" d="M219,291.5 236.3,291.5 237.3,279.3 217.4,279.3Z"/>
<path fill="#ff0000" d="M221,287.8 231.6,287.8 231.6,280.3 221,280.3Z"/>
<path fill="#ffc800" d="M235.3,281.3 243.4,281.3 243.4,277.2 235.3,277.2Z"/>
<path fill="#ffc800" d="M225.1,298.6 233.2,297.6 237.3,289.4 225.1,289.4Z"/>
<path fill="#ff9600" d="M217.4,298 227.1,298 227.1,291.9 217.4,291.9Z"/>
<path fill="#aaaaaa" d="M206.8,281.7 212.9,281.7 212.9,279.3 206.8,279.3Z"/>
<path fill="#dcdcdc" d="M160,200 160,203 171.2,205.1 179.3,209.1 186.4,212.2 190.5,214.2 188.5,209.1 182.4,201 172.2,200Z"/>
<path fill="#00c8ff" d="M168.1,203.7 174.2,203.7 174.2,200 168.1,200Z"/>
<path fill="#00c8ff" d="M177.9,207.7 182.8,207.7 182.8,203.7 177.9,203.7Z"/>
<path fill="#0096ff" d="M172.2,203 175.3,203 175.3,201 172.2,201Z"/>
<path fill="#ffc800" d="M180.3,214.2 188.5,214.2 188.5,208.1 180.3,208.1Z"/>
<path fill="#ff9600" d="M182.4,213.2 186.4,213.2 186.4,210.2 182.4,210.2Z"/>
<path fill="#ff9600" d="M176.3,221.7 178.7,221.7 178.7,219.3 176.3,219.3Z"/>
<path fill="#aaaaaa" d="M171.2,232.9 173.6,232.9 173.6,230.5 171.2,230.5Z"/>
<path fill="#ff0000" d="M264.8,239 267.2,239 267.2,236.6 264.8,236.6Z"/>
<path fill="#ff9600" d="M269.9,272.6 272.3,272.6 272.3,270.1 269.9,270.1Z"/>
<path fill="#ff9600" d="M187.5,284.1 189.9,284.1 189.9,281.7 187.5,281.7Z"/>
<path fill="#ff9600" d="M188.5,297 190.9,297 190.9,294.5 188.5,294.5Z"/>
<path fill="#ff9600" d="M191.5,297 194,297 194,294.5 191.5,294.5Z"/>
<path fill="#dcdcdc" d="M339.9,251.3 338.1,256.5 337.3,263.4 339,270.3 342.5,277.2 345.9,284.1 347.6,291 350.2,296.2 354.5,297.6 361.5,296.2 366.6,292.7 371.8,287.6 377,280.7 378.7,275.5 382.2,266.8 383.9,259.9 384.8,253 383.9,246.1 385.6,237.5 389.1,232.3 394.3,225.4 399.4,218.5 401.2,215 320,215 320,221.9 325.2,222.8 330.4,221.9 333,225.4 334.7,230.5 336.4,237.5 339,244.4Z"/>
<path fill="#ffc800" d="M325.2,215 325.2,220.2 333.8,220.2 333.8,215Z"/>
<path fill="#00c8ff" d="M349.4,215 349.4,220.2 377,220.2 377,215Z"/>
<path fill="#aaaaaa" d="M377,215 377,221.9 383.9,221.9 383.9,215Z"/>
<path fill="#ffc800" d="M394.3,225.4 396,215 382.2,215 383.9,228.8 389.1,230.5Z"/>
<path fill="#ffc800" d="M326,221 326,224.5 332.1,224.5 332.1,221Z"/>
<path fill="#ff9600" d="M327.8,221.9 327.8,224 330.7,224 330.7,221.9Z"/>
<path fill="#0064ff" d="M363.2,228.8 363.2,218.5 345.9,219.3 345.9,230.5 354.5,231.4Z"/>
<path fill="#00c8ff" d="M363.2,216.7 363.2,225.4 377,225.4 377,216.7Z"/>
<path fill="#dcdcdc" d="M361.5,221.9 361.5,230.5 366.6,230.5 366.6,221.9Z"/>
<path fill="#ff6400" d="M364,221.9 365.8,235.7 374.4,235.7 374.4,221.9Z"/>
<path fill="#ff0000" d="M366.6,224.5 366.6,234 371.8,234 371.8,224.5Z"/>
<path fill="#00c8ff" d="M371.8,225.4 371.8,234 382.2,234 382.2,225.4Z"/>
<path fill="#aaaaaa" d="M377,221.9 377,232.3 383.9,232.3 383.9,221.9Z"/>
<path fill="#ff6400" d="M339.9,244.4 339,224.5 332.1,223.6 333.8,232.3 336.4,240.9Z"/>
<path fill="#ff0000" d="M333.8,226.2 333.8,240.1 338.7,240.1 338.7,226.2Z"/>
<path fill="#0000dc" d="M330.4,227.1 330.4,229.7 333,229.7 333,227.1Z"/>
<path fill="#0064ff" d="M334.7,229.7 334.7,234 337.3,234 337.3,229.7Z"/>
<path fill="#0096ff" d="M339,231.4 339.3,256.5 342.5,256.5 342.5,231.4Z"/>
<path fill="#0000dc" d="M363.2,263.4 360.6,253.9 355.4,247.8 355.4,231.4 340.7,232.3 342.5,249.6 348.5,256.5 352,261.6 354.5,270.3 357.1,280.7 363.2,280.7 365.8,273.7Z"/>
<path fill="#dcdcdc" d="M355.4,231.4 355.4,249.6 364.9,249.6 364.9,231.4Z"/>
<path fill="#0064ff" d="M345.9,240.9 345.9,247.8 350.2,247.8 350.2,240.9Z"/>
<path fill="#00c8ff" d="M350.2,253.9 350.2,259.1 354.5,259.1 354.5,253.9Z"/>
<path fill="#aaaaaa" d="M356.3,246.1 356.3,251.3 363.2,251.3 363.2,246.1Z"/>
<path fill="#aaaaaa" d="M364.9,232.3 364.9,247.8 370.1,247.8 370.1,232.3Z"/>
<path fill="#ffc800" d="M369.2,239.2 369.2,247.8 378.7,247.8 378.7,239.2Z"/>
<path fill="#ffc800" d="M361.5,248.7 361.5,254.7 370.1,254.7 370.1,248.7Z"/>
<path fill="#00c8ff" d="M368.4,275.5 378.7,275.5 383.9,266.8 385.6,253 359.7,254.7 361.5,272Z"/>
<path fill="#0000dc" d="M384.8,258.2 383.9,251.3 371.8,249.6 371.8,259.9 378.7,261.6Z"/>
<path fill="#0000dc" d="M370.1,258.2 370.1,265.1 375.3,265.1 375.3,258.2Z"/>
<path fill="#0000dc" d="M370.1,266.8 370.1,273.7 377,273.7 377,266.8Z"/>
<path fill="#dcdcdc" d="M363.2,263.4 363.2,272 370.1,272 370.1,263.4Z"/>
<path fill="#aaaaaa" d="M338.7,256.5 339,270.3 347.6,270.3 347.6,256.5Z"/>
<path fill="#00c8ff" d="M337.3,266.8 337.3,273.7 345.9,273.7 345.9,266.8Z"/>
<path fill="#0000dc" d="M339,270.3 339,275.5 345.9,275.5 345.9,270.3Z"/>
<path fill="#aaaaaa" d="M361.5,270.3 361.5,277.2 370.1,277.2 370.1,270.3Z"/>
<path fill="#00c8ff" d="M354.5,291 352.8,266.8 344.2,258.2 344.2,275.5 345.9,287.6Z"/>
<path fill="#dcdcdc" d="M344.2,275.5 344.2,287.6 352.8,287.6 352.8,275.5Z"/>
<path fill="#0000dc" d="M352.8,277.2 352.8,287.6 363.2,287.6 363.2,277.2Z"/>
<path fill="#aaaaaa" d="M347.6,287.6 350.2,296.2 360.6,297.6 360.6,287.6Z"/>
<path fill="#0000dc" d="M371.8,291 371.8,282.4 361.5,282.4 361.5,294.5 366.6,293.6Z"/>
<path fill="#00c8ff" d="M359.7,291 359.7,296.2 371.8,296.2 371.8,291Z"/>
<path fill="#ffc800" d="M368.4,273.7 368.4,280.7 377,280.7 377,273.7Z"/>
<path fill="#00c8ff" d="M390.8,280.7 396,278.9 401.2,266.8 401.2,254.7 389.1,254.7 389.1,266.8Z"/>
<path fill="#ffc800" d="M392.5,256.5 392.5,261.6 399.4,261.6 399.4,256.5Z"/>
<path fill="#ff6400" d="M390.8,258.2 390.8,265.1 396,265.1 396,258.2Z"/>
<path fill="#ff0000" d="M394.3,261.6 394.3,268.6 400.3,268.6 400.3,261.6Z"/>
<path fill="#0096ff" d="M390.8,268.6 391.2,279.3 396,278.9 396,268.6Z"/>
<path fill="#ff0000" d="M403.4,240.9 403.4,244.7 406.4,244.7 406.4,240.9Z"/>
<path fill="#ff0000" d="M407.6,239.2 407.6,241.3 409.8,241.3 409.8,239.2Z"/>
<path fill="#ff9600" d="M409.5,245.2 409.5,247.3 411.2,247.3 411.2,245.2Z"/>
<path fill="#ff9600" d="M401.2,250.4 401.2,252.5 402.9,252.5 402.9,250.4Z"/>
<path fill="#ff9600" d="M406.4,260.3 406.4,262.3 408.1,262.3 408.1,260.3Z"/>
<path fill="#ff9600" d="M408.1,270.6 408.1,272.7 409.8,272.7 409.8,270.6Z"/>
<path fill="#ff9600" d="M383.9,273.7 383.9,275.8 385.6,275.8 385.6,273.7Z"/>
<path fill="#aaaaaa" d="M389.1,253.4 389.1,254.7 390.5,254.7 390.5,253.4Z"/>
<path fill="#aaaaaa" d="M410.7,250.9 410.7,252.3 412.1,252.3 412.1,250.9Z"/>
<path fill="#aaaaaa" d="M411.5,268.9 411.5,271.1 412.9,271.1 412.9,268.9Z"/>
<path fill="#dcdcdc" d="M462.3,188.9 466,188.5 470.9,192.5 474.6,199.8 478.2,208.8 480.6,215.3 483.1,221.8 486.3,228.3 488.7,229.1 487.9,225 485.5,218.5 482.6,212 481.4,206.3 483.9,205.5 487.4,207.2 488.7,212 491,214 495.9,208.5 496,200.7 493.6,195 495.2,192.5 499.3,191.2 505,188.5 511.5,184.4 513.9,177.9 514.3,175 509.9,175 509.9,160 440,160 440,216.1 443.2,216.1 446.5,213.7 449.3,206.3 453,199 457.9,192.5Z"/>
<path fill="#dcdcdc" d="M479,225 473.6,220.7 472.5,225 474.9,231.5 477.4,240 492,240 488.7,236.4 484.7,231.5Z"/>
<path fill="#dcdcdc" d="M501.7,221.8 495.4,228.3 496,236.4 501.7,240 508.2,238 511.6,229.9 511.6,220.2 508.2,218.5Z"/>
<path fill="#dcdcdc" d="M519.6,195.8 513.4,196.6 513.1,203.9 513.9,213.7 516.4,221.8 521.2,221.8 523.2,213.7 523.2,202.3Z"/>
<path fill="#dcdcdc" d="M516.7,183.3 513.4,183.3 513.9,189.1 516.7,189.1Z"/>
<path fill="#dcdcdc" d="M498.8,192.7 494.9,192.7 494.9,196.3 498.8,196.3Z"/>
<path fill="#dcdcdc" d="M452,212.2 448.8,212.2 448.8,219.8 452,219.8Z"/>
<path fill="#00c8ff" d="M446.5,160 440,160 440,164.9 446.5,164.9Z"/>
<path fill="#aaaaaa" d="M485.5,160 448.1,160 448.1,172.2 485.5,172.2Z"/>
<path fill="#dcdcdc" d="M448.1,164.9 440,164.9 440,173 448.1,173Z"/>
<path fill="#ffc800" d="M509.9,160 487.1,160 488.7,173 509.9,173Z"/>
<path fill="#ff9600" d="M500.1,164.9 490.4,164.9 490.4,173 500.1,173Z"/>
<path fill="#ff9600" d="M509.9,161.6 505,161.6 505,168.1 509.9,168.1Z"/>
<path fill="#dcdcdc" d="M449.7,173 440,173 440,213.7 449.7,213.7Z"/>
<path fill="#aaaaaa" d="M446.5,181.1 440,181.1 440,192.5 446.5,192.5Z"/>
<path fill="#00c8ff" d="M449.7,199 453,199 457.9,192.5 464.4,187.6 464.4,174.6 449.7,174.6Z"/>
<path fill="#0096ff" d="M455.4,175.4 450.6,175.4 450.6,180.3 455.4,180.3Z"/>
<path fill="#0064ff" d="M462.7,184.4 457.9,184.4 457.9,190.1 462.7,190.1Z"/>
<path fill="#00c8ff" d="M446.5,192.5 440,192.5 440,207.2 446.5,207.2Z"/>
<path fill="#0096ff" d="M449.7,197.4 444.9,197.4 444.9,202.3 449.7,202.3Z"/>
<path fill="#ffc800" d="M479,176.3 464.4,176.3 466,188.5 479,187.6Z"/>
<path fill="#ff9600" d="M477.4,177.9 466.8,177.9 466.8,184.4 477.4,184.4Z"/>
<path fill="#dcdcdc" d="M488.7,176.3 479,176.3 479,192.5 488.7,192.5Z"/>
<path fill="#00c8ff" d="M485.5,187.6 470.9,187.6 472.5,193.3 485.5,192.5Z"/>
<path fill="#ffc800" d="M487.1,192.5 499.3,191.7 505,188.5 511.5,184.4 512.3,175 509.9,175 509.9,174.6 485.5,174.6Z"/>
<path fill="#ff9600" d="M499.3,191.2 505,188.5 508.2,177.9 488.7,177.9 490.4,190.9Z"/>
<path fill="#ff0000" d="M500.1,182.8 493.6,182.8 493.6,190.9 500.1,190.9Z"/>
<path fill="#ff6400" d="M506.6,186.8 500.1,186.8 500.1,191.2 506.6,191.2Z"/>
<path fill="#ffc800" d="M516.7,183.3 513.4,183.3 513.4,189.1 516.7,189.1Z"/>
<path fill="#ff9600" d="M516.4,184.4 514.1,184.4 514.1,187.6 516.4,187.6Z"/>
<path fill="#ffc800" d="M498.8,192.7 494.9,192.7 494.9,196.3 498.8,196.3Z"/>
<path fill="#0000dc" d="M475.7,195.8 470.9,195.8 470.9,202.3 475.7,202.3Z"/>
<path fill="#00c8ff" d="M477.4,192.5 467.6,192.5 467.6,213.7 477.4,213.7Z"/>
<path fill="#00c8ff" d="M487.1,192.5 477.4,192.5 477.4,205.5 487.1,205.5Z"/>
<path fill="#0000dc" d="M479.8,213.7 483.9,220.2 485.5,218.5 482.6,212 480.9,200.7 476.6,200.7Z"/>
<path fill="#ffc800" d="M491,214 495.9,208.5 495.2,196.6 486.3,196.6 487.9,210.4Z"/>
<path fill="#ff9600" d="M493.6,202.3 488.7,202.3 488.7,207.2 493.6,207.2Z"/>
<path fill="#dcdcdc" d="M487.9,206.3 482.2,206.3 482.2,213.7 487.9,213.7Z"/>
<path fill="#00c8ff" d="M501.7,202.3 495.2,202.3 495.2,212 501.7,212Z"/>
<path fill="#ffc800" d="M519.6,195.8 513.4,196.6 513.1,203.9 513.9,213.7 516.4,221.8 521.2,221.8 523.2,213.7 523.2,202.3Z"/>
<path fill="#ff9600" d="M521.2,202.3 516.4,202.3 516.4,208.8 521.2,208.8Z"/>
<path fill="#00c8ff" d="M522,213.7 514.7,213.7 514.7,221.5 522,221.5Z"/>
<path fill="#0000dc" d="M520.4,216.1 516.4,216.1 516.4,221 520.4,221Z"/>
<path fill="#0064ff" d="M470.1,215.3 472.5,224.2 476.6,225 477.4,218.5 474.1,207.2 469.2,205.5Z"/>
<path fill="#0000dc" d="M473.6,220.7 473.3,224.2 477.4,229.9 483.9,236.4 488.7,236.4 484.7,231.5 479,225Z"/>
<path fill="#0000dc" d="M483.9,223.4 488.7,229.1 496.9,228.3 496,222.6 488.7,220.2 482.2,213.7Z"/>
<path fill="#00c8ff" d="M480.6,225 472.5,225 472.5,231.5 480.6,231.5Z"/>
<path fill="#ffc800" d="M485.5,233.2 475.7,231.5 477.4,240 492,240Z"/>
<path fill="#ff9600" d="M484.7,234 479,234 479,240 484.7,240Z"/>
<path fill="#00c8ff" d="M501.7,221.8 495.4,228.3 496,236.4 501.7,240 508.2,238 511.6,229.9 511.6,220.2 508.2,218.5Z"/>
<path fill="#0096ff" d="M508.2,223.4 501.7,223.4 501.7,229.9 508.2,229.9Z"/>
<path fill="#0000dc" d="M511.6,221.8 508.2,221.8 508.2,228.3 511.6,228.3Z"/>
<path fill="#ffc800" d="M501.7,231.5 496,231.5 496,240 501.7,240Z"/>
<path fill="#ff9600" d="M500.9,234 497.7,234 497.7,238 500.9,238Z"/>
<path fill="#ff0000" d="M452,213.7 448.8,213.7 448.8,219.8 452,219.8Z"/>
<path fill="#ffc800" d="M452,212.2 448.8,212.2 448.8,214.5 452,214.5Z"/>
<path fill="#00c8ff" d="M530,225 511.6,225 511.6,240 530,240Z"/>
<path fill="#0064ff" d="M530,231.5 514.7,231.5 514.7,240 530,240Z"/>
<path fill="#0000dc" d="M521.2,228.3 513.1,228.3 513.1,234.8 521.2,234.8Z"/>
<path fill="#dcdcdc" d="M565.9,252.3 563.1,243.2 554.9,237.7 543.9,232.2 532.9,233.1 532.9,239.5 536.6,245 543.9,250.5 551.2,254.1 560.4,256Z"/>
<path fill="#0000dc" d="M565.9,252.3 563.1,243.2 554.9,237.7 543.9,232.2 532.9,233.1 532.9,239.5 536.6,245 543.9,250.5 551.2,254.1 560.4,256Z"/>
<path fill="#00c8ff" d="M556.7,242.3 556.7,234.9 543.9,234.9 543.9,242.3Z"/>
<path fill="#0064ff" d="M554.9,252.3 560.4,255.6 565.5,252.3 563.1,243.2 554.9,243.2Z"/>
<path fill="#0096ff" d="M543.9,246.8 543.9,239.5 536.6,239.5 536.6,246.8Z"/>
<path fill="#0096ff" d="M534.8,246.8 534.8,240.1 525.6,240.1 525.6,246.8Z"/>
<path fill="#ffc800" d="M518.3,246.8 518.3,240.1 511,240.1 511,246.8Z"/>
<path fill="#00c8ff" d="M525.6,248.7 525.6,241.3 518.3,241.3 518.3,248.7Z"/>
<path fill="#00c8ff" d="M511,246.8 511,240.1 500,240.1 500,246.8Z"/>
<path fill="#0064ff" d="M509.2,248.7 509.2,243.2 503.7,243.2 503.7,248.7Z"/>
<path fill="#00c8ff" d="M511,260 511,252.3 500,252.3 500,260Z"/>
<path fill="#0000dc" d="M520.1,260 520.1,254.1 511,254.1 511,260Z"/>
<path fill="#ffc800" d="M529.3,256 529.3,250.5 520.1,250.5 520.1,256Z"/>
<path fill="#dcdcdc" d="M541.2,260 540.3,253.2 529.3,253.2 529.3,260Z"/>
<path fill="#0096ff" d="M580.5,250.5 580.5,245 575,245 575,250.5Z"/>
<path fill="#00c8ff" d="M573.2,246.8 573.2,243.2 569.6,243.2 569.6,246.8Z"/>
<path fill="#0000dc" d="M589.7,256 589.7,250.5 586,250.5 586,256Z"/>
<path fill="#0096ff" d="M548,184.6 548,177.3 545.8,177.3 545.8,184.6Z"/>
<path fill="#00c8ff" d="M554.9,192.9 554.9,191 553.1,191 553.1,192.9Z"/>
<path fill="#ffc800" d="M554.9,201.1 554.9,198.4 553.1,198.4 553.1,201.1Z"/>
<path fill="#0096ff" d="M568.1,185 568.1,182.8 565.9,182.8 565.9,185Z"/>
<path fill="#aaaaaa" d="M588.8,194.7 588.8,192.9 586.9,192.9 586.9,194.7Z"/>
<path fill="#00c8ff" d="M544.3,214.8 544.3,212.1 542.1,212.1 542.1,214.8Z"/>
<path fill="#0096ff" d="M565,218.5 565,214.8 557.7,214.8 557.7,218.5Z"/>
<path fill="#aaaaaa" d="M552.2,219.4 552.2,215.7 550.3,215.7 550.3,219.4Z"/>
<path fill="#0000dc" d="M532.4,183.7 532.4,181 530.2,181 530.2,183.7Z"/>
<path fill="#aaaaaa" d="M544.8,212.1 544.8,210.2 543,210.2 543,212.1Z"/>
<path fill="#ff0000" d="M582.7,210.2 582.7,208 580.5,208 580.5,210.2Z"/>
<path fill="#ff0000" d="M580.5,213.9 580.5,212.1 577.4,212.1 577.4,213.9Z"/>
<path fill="#ff0000" d="M578.7,219.8 578.7,217.9 574.1,217.9 574.1,219.8Z"/>
<path fill="#ff0000" d="M584.2,221.2 584.2,219.4 580.5,219.4 580.5,221.2Z"/>
<path fill="#ff0000" d="M587.3,215.7 587.3,213.9 585.1,213.9 585.1,215.7Z"/>
<path fill="#ff9600" d="M570.3,217.9 570.3,215.7 568.1,215.7 568.1,217.9Z"/>
<path fill="#ff9600" d="M571,225.6 571,223.4 568.8,223.4 568.8,225.6Z"/>
<path fill="#ff9600" d="M569.6,230 569.6,227.8 567.4,227.8 567.4,230Z"/>
<path fill="#ffc800" d="M593.7,210.2 593.7,208 591.5,208 591.5,210.2Z"/>
<path fill="#ff9600" d="M591.5,216.6 591.5,213 588.8,213 588.8,216.6Z"/>
<path fill="#ffc800" d="M595.2,214.8 595.2,213 593.3,213 593.3,214.8Z"/>
<path fill="#ff9600" d="M592.4,223 592.4,221.2 590.6,221.2 590.6,223Z"/>
<path fill="#ffc800" d="M596.1,219.4 596.1,217.2 594.3,217.2 594.3,219.4Z"/>
<path fill="#ff9600" d="M599.8,230.4 599.8,224 597,224 597,230.4Z"/>
<path fill="#00c8ff" d="M604,235.9 604,232.2 600.3,232.2 600.3,235.9Z"/>
<path fill="#ff9600" d="M606.2,246.8 606.2,243.2 602.5,243.2 602.5,246.8Z"/>
<path fill="#ff0000" d="M610,250.5 610,246.8 607.6,246.8 607.6,250.5Z"/>
<path fill="#0064ff" d="M532,225.8 532,223 530.2,223 530.2,225.8Z"/>
<path fill="#dcdcdc" d="M300,180 420,180 420,100 300,100Z"/>
<path fill="#ffffff" d="M316,147.3 316.9,144.1 315,140.4 311.8,137.9 318.8,136.6 322.3,134.7 320.7,126.3 322.3,118.2 322.9,116 326.9,113.1 332.3,109 338.1,104.1 343.6,100 300,100 300,164.8 310.5,162.3 305.1,160.1 305.1,147.3Z"/>
<path fill="#ffffff" d="M333.2,127 332.9,125.2 332.9,121 335.7,120.3 332.5,118.4 327.6,119.3 328.2,115 327.6,111.6 322.3,118 322,128.9 322.7,133.1 325.9,131 330,128.2Z"/>
<path fill="#ffffff" d="M355,103.9 349,104.5 350,114.1 354.1,115 357.1,112 360.1,106.9Z"/>
<path fill="#ffffff" d="M352,115 346.9,116 343,121 343.9,127 351.1,127 355,124 356,117.1Z"/>
<path fill="#ffffff" d="M356,116.9 368,116.9 368,116 356,115.6Z"/>
<path fill="#dcdcdc" d="M352,115 346.9,116 343,121 343.9,127 351.1,127 355,124 356,117.1Z"/>
<path fill="#dcdcdc" d="M356,116.9 368,116.9 368,116 356,115.6Z"/>
<path fill="#dcdcdc" d="M355,103.9 349,104.5 350,114.1 354.1,115 357.1,112 360.1,106.9Z"/>
<path fill="#ffffff" d="M351.8,169.5 356.9,170.4 369.9,171.4 374.6,170.6 376.8,165.7 377.6,160.5 368,161 364,160.1 362.3,154.1 356.7,153 358.4,158 356,161 353.5,158 350.9,152.2 349.4,153.7 346.9,156.3 344.9,158 342.6,152.6 339.6,150.5 334,145.6 330.8,147.9 324.4,147.9 324.4,150.5 319.5,155 319.5,158 314.9,160.2 336.4,160.1 337.2,166.7 343.8,169.5 350.3,172.5Z"/>
<path fill="#ffffff" d="M349.4,153.7 350.9,152.2 341.7,143.4 339.4,143.8 341.3,147.1Z"/>
<path fill="#ffffff" d="M382.6,143.2 375.1,141.7 367.6,142.8 364.2,146.9 365.7,150.7 375.1,152.2 382.6,150.7 386.8,146Z"/>
<path fill="#ffffff" d="M406.9,154.5 403.3,146.9 401.4,140.6 396.7,141.3 395.8,145.1 397.7,150.7 399.5,159.2 405.2,160.1Z"/>
<path fill="#dcdcdc" d="M322.3,134.7 322.3,122.5 318.8,116.9 310.5,118.2 310.5,122.5 313.1,128.2 311.3,134.7 316.9,135.3Z"/>
<path fill="#dcdcdc" d="M302.4,131.9 309.8,131.9 309.8,124.4 302.4,124.4Z"/>
<path fill="#dcdcdc" d="M339.6,160.5 344.7,160.5 344.7,157.5 339.6,157.5Z"/>
<path fill="#dcdcdc" d="M332.3,156 335.7,156 335.7,148.1 332.3,148.1Z"/>
<path fill="#00c8ff" d="M332.3,156 335.7,156 335.7,148.1 332.3,148.1Z"/>
<path fill="#00c8ff" d="M349.2,100 343.2,100 337.6,103.8 331.9,109.4 326.3,113.1 328.2,116.5 333.2,114.1 338.9,109.4 344.5,103.8Z"/>
<path fill="#0096ff" d="M344.1,100 336.6,101.9 340.4,104.7Z"/>
<path fill="#ffc800" d="M362,108.6 366.1,108.6 366.1,105.6 362,105.6Z"/>
<path fill="#aaaaaa" d="M378.9,100 378.9,113.1 405.2,112.2 420,111.3 420,100Z"/>
<path fill="#dcdcdc" d="M388.3,106.6 405.2,106.6 405.2,100.9 388.3,100.9Z"/>
<path fill="#00c8ff" d="M380.8,118.8 420,118.8 420,114.1 380.8,114.1Z"/>
<path fill="#0096ff" d="M407,120.7 414.6,120.7 414.6,116 407,116Z"/>
<path fill="#aaaaaa" d="M371.4,115 378.9,115 378.9,110.3 371.4,110.3Z"/>
<path fill="#aaaaaa" d="M373.2,124.4 384.5,124.4 384.5,118.8 373.2,118.8Z"/>
<path fill="#aaaaaa" d="M388.3,126.3 403.3,126.3 403.3,118.8 388.3,118.8Z"/>
<path fill="#aaaaaa" d="M380.8,131.9 390.1,131.9 390.1,124.4 380.8,124.4Z"/>
<path fill="#aaaaaa" d="M362,131.9 378.9,131.9 378.9,126.3 362,126.3Z"/>
<path fill="#aaaaaa" d="M346.9,128.2 354.5,128.2 354.5,124.4 346.9,124.4Z"/>
<path fill="#aaaaaa" d="M313.1,156.3 317.8,156.3 317.8,150.7 313.1,150.7Z"/>
<path fill="#ffc800" d="M311.3,126.3 318.8,126.3 318.8,116.9 311.3,116.9Z"/>
<path fill="#ffc800" d="M315,135.3 322.3,134.7 322.3,122.5 311.3,122.5Z"/>
<path fill="#00c8ff" d="M310.5,134.7 315,134.7 315,126.3 310.5,126.3Z"/>
<path fill="#00c8ff" d="M302.4,131.9 309.8,131.9 309.8,124.4 302.4,124.4Z"/>
<path fill="#0096ff" d="M303.8,131 307.5,131 307.5,127.2 303.8,127.2Z"/>
<path fill="#ffc800" d="M337.6,128.2 348.8,128.2 345.1,117.8 335.7,118.8Z"/>
<path fill="#ffc800" d="M331.9,141.3 341.3,141.3 341.3,133.8 331.9,133.8Z"/>
<path fill="#ff9600" d="M334.7,140.4 337.6,140.4 337.6,138.1 334.7,138.1Z"/>
<path fill="#ffc800" d="M352.6,143.2 356.3,143.2 356.3,139.4 352.6,139.4Z"/>
<path fill="#ffc800" d="M362,145.1 365.7,145.1 365.7,141.3 362,141.3Z"/>
<path fill="#ffc800" d="M356.3,131 362,131 362,126.3 356.3,126.3Z"/>
<path fill="#ffc800" d="M376.1,139.8 382.6,139.4 382.6,132.3 375.1,131.9Z"/>
<path fill="#ffc800" d="M342.3,147.9 339.4,146.9 340.4,151.1 345.1,158 346,157.3 349.2,153.5Z"/>
<path fill="#ffc800" d="M320.7,158.2 326.3,158.2 326.3,150.7 320.7,150.7Z"/>
<path fill="#ffc800" d="M305.6,165.7 311.3,165.7 311.3,160.1 305.6,160.1Z"/>
<path fill="#00c8ff" d="M305.1,158.2 311.3,158.2 311.3,148.8 305.1,148.8Z"/>
<path fill="#0096ff" d="M305.6,156.3 308.5,156.3 308.5,150.7 305.6,150.7Z"/>
<path fill="#00c8ff" d="M328.2,146 333.8,146 333.8,142.3 328.2,142.3Z"/>
<path fill="#00c8ff" d="M318.8,146.9 322.5,146.9 322.5,141.3 318.8,141.3Z"/>
<path fill="#aaaaaa" d="M331.9,147.9 339.4,147.9 339.4,145.1 331.9,145.1Z"/>
<path fill="#aaaaaa" d="M320.7,147.9 330,147.9 330,143.2 320.7,143.2Z"/>
<path fill="#00c8ff" d="M371.4,128.2 378.9,128.2 378.9,124.4 371.4,124.4Z"/>
<path fill="#00c8ff" d="M382.6,154.5 390.1,154.5 390.1,145.1 382.6,145.1Z"/>
<path fill="#00c8ff" d="M390.1,156.3 399.5,156.3 399.5,143.2 390.1,143.2Z"/>
<path fill="#0096ff" d="M393.9,154.5 397.7,154.5 397.7,146.9 393.9,146.9Z"/>
<path fill="#0096ff" d="M401.4,143.2 408.9,143.2 408.9,137.6 401.4,137.6Z"/>
<path fill="#00c8ff" d="M399.5,148.8 403.3,148.8 403.3,143.2 399.5,143.2Z"/>
<path fill="#0064ff" d="M362,163.8 369.5,163.8 369.5,156.3 362,156.3Z"/>
<path fill="#ffc800" d="M377,166.7 393.9,166.7 393.9,156.3 375.1,156.3Z"/>
<path fill="#ff9600" d="M378.9,164.8 392,164.8 392,159.2 378.9,159.2Z"/>
<path fill="#ffc800" d="M309.4,171.4 316,171.4 316,164.8 309.4,164.8Z"/>
<path fill="#00c8ff" d="M315,177 317.8,177 317.8,174.2 315,174.2Z"/>
<path fill="#aaaaaa" d="M330,180 341.3,180 341.3,175.1 330,175.1Z"/>
<path fill="#aaaaaa" d="M346.9,177 356.3,177 356.3,174.2 346.9,174.2Z"/>
<path fill="#aaaaaa" d="M412.7,171.4 420,171.4 420,162 412.7,162Z"/>
<path fill="#aaaaaa" d="M405.2,160.1 412.7,160.1 412.7,156.3 405.2,156.3Z"/>
<path fill="#ffc800" d="M399.5,174.2 405.2,174.2 405.2,169.5 399.5,169.5Z"/>
<path fill="#ff9600" d="M306.6,113.1 309,113.1 309,110.3 306.6,110.3Z"/>
<path fill="#ffc800" d="M331,127.2 342.3,127.2 342.3,116.9 331,116.9Z"/>
<path fill="#ffc800" d="M343.2,122.9 351.6,122.9 351.6,118.8 343.2,118.8Z"/>
<path fill="#ffc800" d="M347.9,145.1 354.5,145.1 354.5,139.4 347.9,139.4Z"/>
<path fill="#ffc800" d="M362,142.8 365.7,142.8 365.7,139.4 362,139.4Z"/>
<path fill="#aaaaaa" d="M410.8,148.8 420,148.8 420,137.6 410.8,137.6Z"/>
<path fill="#dcdcdc" d="M165.6,108.5 166.5,101.6 171.6,96.5 176.8,93 180.1,87 185.4,81.8 192.5,78.4 205,80.8 222.6,85.3 230,84.4 230,72.3 223.3,71.5 209.5,69.8 194,69.8 176.8,72.3 163,74.9 147.5,78.4 133.8,80.1 120,82.7 120,118 176.8,118 171.6,112Z"/>
<path fill="#ffffff" d="M151,86.1 133.8,87.8 135.5,90.4 151,89.6 161.3,87.8Z"/>
<path fill="#ffffff" d="M171.6,80.1 154.4,81.8 154.4,84.4 163,83.5 176.8,81.8Z"/>
<path fill="#ffffff" d="M176.8,86.1 164.8,87.8 166.5,90.4 176.8,89.6 180.3,87.8Z"/>
<path fill="#ffffff" d="M159.6,92.2 149.3,93 149.3,95.6 157.9,96.5 166.5,94.7Z"/>
<path fill="#ffffff" d="M168.2,79.2 171.6,81 182,78.4 180.3,76.6Z"/>
<path fill="#ffffff" d="M180.1,109.7 180.1,101.6 176.8,99 165.6,104.2 165.6,118 192.3,118 186.3,112Z"/>
<path fill="#dcdcdc" d="M198.8,114.7 211.2,112 217.4,107 220,103.4 215,98.4 205,93.4 192.5,88.9 180.1,87 178.5,99.9 180.1,109.7 186.3,112Z"/>
<path fill="#dcdcdc" d="M222.6,85.3 227.8,89.6 230,94.6 230,84.4Z"/>
<path fill="#dcdcdc" d="M171.6,108.5 173.4,112.8 180.3,112 178.5,107.1Z"/>
<path fill="#dcdcdc" d="M206.1,114.6 194,115.4 194,118 216.4,118 216.4,117.1Z"/>
<path fill="#aaaaaa" d="M192.5,78.4 205,80.8 222.6,85.3 230,84.4 230,72.3 223.3,71.5 209.5,69.8 194,69.8 176.8,72.3 176.8,79.2 182,82.7 188.9,81Z"/>
<path fill="#aaaaaa" d="M133.8,85.3 130.3,83.5 120,84.4 120,93 126.9,93.9 135.5,93Z"/>
<path fill="#aaaaaa" d="M157.9,96.5 154.4,90.4 130.3,90.4 130.3,96.5 137.2,101.3 151,101.3Z"/>
<path fill="#aaaaaa" d="M145.8,79.2 151,82.7 163,81 159.6,77.5Z"/>
<path fill="#aaaaaa" d="M194,115.4 194,118 216.4,118 216.4,115.4Z"/>
<path fill="#dcdcdc" d="M185.4,74.1 187.1,78.4 194,77.5 192.3,72.3Z"/>
<path fill="#dcdcdc" d="M202.6,72.3 202.6,76.6 213,75.8 213,72.3Z"/>
<path fill="#00c8ff" d="M160.5,108.2 162.2,105.1 159.6,102.5 151.8,102.5 147.5,104.2 148.9,107.7 152.7,109.9 156.2,109.9Z"/>
<path fill="#0096ff" d="M159.2,107.3 161,105.1 158.7,103.4 152.7,103.4 149.6,104.6 150.1,107.1 153.1,108.9 155.8,108.9Z"/>
<path fill="#ffc800" d="M199.5,103 196.6,102.7 194,104.7 195.7,107.5 199.2,107.5 201.3,105.1Z"/>
<path fill="#00c8ff" d="M508.4,117.5 508.4,102.7 465.7,104.4 432.9,106 400,113.5 400,119 432.9,119.2 465.7,117.5Z"/>
<path fill="#0096ff" d="M410,116 410,120 420,120 420,116Z"/>
<path fill="#0096ff" d="M432.9,109.3 432.9,115.9 475.6,115.9 475.6,109.3Z"/>
<path fill="#aaaaaa" d="M445,117.5 445,122 470,122 470,117.5Z"/>
<path fill="#dcdcdc" d="M480,117.5 480,121 500,121 500,117.5Z"/>
<path fill="#00c8ff" d="M508.4,102.7 508.4,112.6 538,112.6 538,102.7Z"/>
<path fill="#00c8ff" d="M400,122 400,127 412,127 412,122Z"/>
<path fill="#ffffff" d="M411,181 406,177 402,174.5 397,173 401,179.5 406,183.5 410.5,186Z"/>
<path fill="#aaaaaa" d="M420,113 420,119 430,119 430,113Z"/>
<path fill="#aaaaaa" d="M450,104 450,108 458,108 458,104Z"/>
<path fill="#aaaaaa" d="M480,113 480,120 490,120 490,113Z"/>
<path fill="#aaaaaa" d="M495,104 495,109 505,109 505,104Z"/>
<path fill="#dcdcdc" d="M465,118 465,122 472,122 472,118Z"/>
<path fill="#aaaaaa" d="M405,104 405,109 415,109 415,104Z"/>
<path fill="#dcdcdc" d="M438,104 438,107 446,107 446,104Z"/>
<path fill="#aaaaaa" d="M506,289.5 506,294 540,294 540,289.5Z"/>
<path fill="#aaaaaa" d="M533,262 533,282 549,282 549,262Z"/>
<path fill="#00c8ff" d="M535,280 535,287 545,287 545,280Z"/>
<path fill="#0000dc" d="M516.6,257.4 516.6,263.5 526.8,263.5 526.8,257.4Z"/>
<path fill="#0064ff" d="M526.8,256 526.8,261.5 541,261.5 541,256Z"/>
<path fill="#dcdcdc" d="M148.8,188.8 150,193.8 155,197.5 160,199.4 165,200 170,201.3 181,200 181,200 181,199.8 180,192.5 178.8,190 175,190 172.6,192.5 170,195 166.3,195.7 163.8,193.8 161.3,188.8 160,180 161.3,174 137,174 138,175 145,181.3Z"/>
<path fill="#dcdcdc" d="M142.5,186 139,181 134,174 131,174 136,180 141,186.5Z"/>
<path fill="#ffc800" d="M158.5,189 161.5,195 165,197.5 169,197.5 172,195.5 176,192 175,190 172.6,192.5 170,195 166.3,195.7 163.8,193.8 161.3,188.8 160,180 161.3,174 157,174 156,174 157.5,181Z"/>
<path fill="#ffc800" d="M157,174 152,174 152,177 157,177Z"/>
<path fill="#ff9600" d="M162,174 159,174 159,176 162,176Z"/>
<path fill="#00c8ff" d="M158.8,199.4 156.3,199.4 156.3,200.7 158.8,200.7Z"/>
<path fill="#00c8ff" d="M175,197.5 172.6,197.5 172.6,200 175,200Z"/>
<path fill="#aaaaaa" d="M484,95 419,95 419,103 484,103Z"/>
<path fill="#aaaaaa" d="M542,100 484,100 484,104 542,104Z"/>
<path fill="#dcdcdc" d="M561,93.5 542,93.5 542,100 561,100Z"/>
<path fill="#dcdcdc" d="M609,97 584,97 584,112.6 609,112.6Z"/>
<path fill="#dcdcdc" d="M584,105.6 559.6,105.6 559.6,114.3 584,114.3Z"/>
<path fill="#ffc800" d="M170,177.5 175,177 181,176.8 181,175.9 187,175.9 187,173.5 161,173.5 161.5,177 164,176.5Z"/>
<path fill="#ff9600" d="M176,174.5 170,174.5 170,177 176,177Z"/>
<path fill="#dcdcdc" d="M518.2,175 524.7,170.1 528.5,160.7 527.6,151.3 535.1,147.6 543.5,142.9 546,139.1 543,132.6 539.2,126.9 540.7,123.2 546.3,116 509.9,116 509.9,175Z"/>
<path fill="#aaaaaa" d="M514.4,157 527.6,151.3 535.1,147.6 543.5,142.9 546,139.1 543,132.6 539.2,126.9 540.7,123.2 546.3,116 509.9,116 509.9,157Z"/>
<path fill="#dcdcdc" d="M538.8,128.8 538.8,121.3 529.4,121.3 529.4,128.8Z"/>
<path fill="#dcdcdc" d="M516.3,143.8 516.3,128.8 509.9,128.8 509.9,143.8Z"/>
<path fill="#dcdcdc" d="M542.6,140.1 542.6,132.6 536.9,132.6 536.9,140.1Z"/>
<path fill="#00c8ff" d="M531.7,125 531.7,116.6 518.2,116.6 518.2,125Z"/>
<path fill="#00c8ff" d="M535.1,141.9 535.1,129.7 518.2,129.7 518.2,141.9Z"/>
<path fill="#00c8ff" d="M527.6,155.1 527.6,142.9 514.4,142.9 514.4,155.1Z"/>
<path fill="#00c8ff" d="M539.2,148.5 539.2,141.9 527.6,141.9 527.6,148.5Z"/>
<path fill="#0096ff" d="M527.6,137.3 527.6,133.5 521,133.5 521,137.3Z"/>
<path fill="#00c8ff" d="M527.6,158.8 527.6,151.3 514.4,151.3 514.4,158.8Z"/>
<path fill="#ffc800" d="M527.6,167.3 527.6,158.8 518.2,158.8 518.2,167.3Z"/>
<path fill="#ff9600" d="M523.8,173.9 523.8,166.4 518.2,166.4 518.2,173.9Z"/>
<path fill="#ffc800" d="M518.2,175 518.2,160.7 509.9,160.7 509.9,175Z"/>
<path fill="#ff9600" d="M516.3,175 516.3,168.2 510.7,168.2 510.7,175Z"/>
<path fill="#dcdcdc" d="M548.2,151.3 553.8,148.5 552,142.9 544.5,141.9 544.5,148.5Z"/>
<path fill="#00c8ff" d="M548.2,151.3 553.8,148.5 552,142.9 544.5,141.9 544.5,148.5Z"/>
<path fill="#dcdcdc" d="M535.1,159.8 527.6,164.9 522.9,170.1 525.3,175 529.8,172 533.6,166.7 539.2,163.5 544.8,158.8 550.1,151.3 546.3,149.5 541.1,154.7Z"/>
<path fill="#00c8ff" d="M544.8,158.8 550.1,151.3 546.3,149.5 541.1,154.7Z"/>
<path fill="#ffc800" d="M527.6,164.9 522.9,170.1 525.3,175 529.8,172 533.6,166.7 539.2,163.5 544.8,158.8 541.1,154.7 535.1,159.8Z"/>
<path fill="#ff9600" d="M528.5,166 524.2,171.1 525.7,175 529.8,172 533.6,166.7 539.2,163.5 537.9,160.7 535.1,161.7Z"/>
<path fill="#ff6400" d="M534.1,172.9 534.1,167.3 528.5,167.3 528.5,172.9Z"/>
<path fill="#dcdcdc" d="M547.3,143.8 550.1,143.8 551,138.2 549.2,126.9 546.3,126.9 546.3,136.3Z"/>
<path fill="#aaaaaa" d="M551,138.2 551,126.9 546.3,126.9 546.3,138.2Z"/>
<path fill="#00c8ff" d="M551,143.8 551,138.2 546.3,138.2 546.3,143.8Z"/>
<path fill="#00c8ff" d="M573,134.8 570.8,132.6 552,145.7 554.2,149.1Z"/>
<path fill="#0096ff" d="M559.9,144.2 559.9,141.9 557.6,141.9 557.6,144.2Z"/>
<path fill="#0096ff" d="M566.1,139.1 566.1,137.3 564.2,137.3 564.2,139.1Z"/>
<path fill="#dcdcdc" d="M572.6,133.5 578.3,128.8 583,121.3 584.8,116 578.3,115.7 570.8,123.2 570.4,130.7Z"/>
<path fill="#aaaaaa" d="M580.1,126.9 580.1,121.3 572.6,121.3 572.6,126.9Z"/>
<path fill="#aaaaaa" d="M601.7,161.7 601.7,159.8 599.9,159.8 599.9,161.7Z"/>
<path fill="#0096ff" d="M546.3,173.9 546.3,172 544.8,172 544.8,173.9Z"/>
<path fill="#00c8ff" d="M545.4,167.9 545.4,165.4 543.5,165.4 543.5,167.9Z"/>
<path fill="#dcdcdc" d="M186.9,177.8 188.5,182.5 190,183.3 190.7,179.4 189,173.1 185.8,173.1Z"/>
<path fill="#ffc800" d="M186.9,177.8 188.5,182.5 190,183.3 190.7,179.4 189,173.1 185.8,173.1Z"/>
<path fill="#dcdcdc" d="M182.1,189.1 185,189.5 189.7,190.3 194.4,191.9 199.1,192.8 199.7,191.1 196,189.5 191.3,188 186.6,186.4 182.1,187.5Z"/>
<path fill="#ffc800" d="M182.1,190.6 185,191.6 189,192.2 194.4,193.4 201,193.8 201,189.5 197.6,187.5 192.9,185.9 187.4,183.8 182.1,184.8Z"/>
<path fill="#ff6400" d="M182.1,189.5 183.5,190.3 187.4,190.3 189,187.5 186.9,185.9 182.1,186.9Z"/>
<path fill="#ff9600" d="M189,191.1 193.6,191.1 193.6,187.5 189,187.5Z"/>
<path fill="#ffc800" d="M192.1,181.7 195.2,181.7 195.2,178.6 192.1,178.6Z"/>
<path fill="#ffc800" d="M195.2,185.6 198.3,185.6 198.3,182.5 195.2,182.5Z"/>
<path fill="#ffc800" d="M197.6,188.4 200.4,188.4 200.4,185.6 197.6,185.6Z"/>
<path fill="#ffc800" d="M193.2,182.8 194.7,182.8 194.7,181.2 193.2,181.2Z"/>
<path fill="#dcdcdc" d="M192.1,197.3 194.7,197.2 194.7,195.6 192.1,195.9Z"/>
<path fill="#ffc800" d="M192.1,197.3 194.7,197.3 194.7,195.8 192.1,195.8Z"/>
<path fill="#dcdcdc" d="M199.7,195 202.3,196.9 208.2,196.6 208.7,193.4 205.4,191.9 199.7,192.8Z"/>
<path fill="#00c8ff" d="M199.7,196.9 208.7,196.9 208.7,192.8 199.7,192.8Z"/>
<path fill="#0096ff" d="M202.3,195.8 206.9,195.8 206.9,193.1 202.3,193.1Z"/>
<path fill="#0000dc" d="M201.5,191.9 204.6,191.9 204.6,188.8 201.5,188.8Z"/>
<path fill="#00c8ff" d="M208.8,198.1 213.2,198.1 213.2,195 208.8,195Z"/>
<path fill="#dcdcdc" d="M219.2,197.8 221,197.8 221,195.8 219.2,195.8Z"/>
<path fill="#dcdcdc" d="M220.3,200 222,200 222,198.4 220.3,198.4Z"/>
<path fill="#aaaaaa" d="M219.5,200.9 221.3,200.9 221.3,200.2 219.5,200.2Z"/>
<path fill="#0096ff" d="M211.6,197.3 214.8,197.3 214.8,195.8 211.6,195.8Z"/>
<path fill="#00c8ff" d="M214.8,198.9 217.9,198.9 217.9,197.3 214.8,197.3Z"/>
<path fill="none" stroke="#1a1a1a" stroke-width="0.85" d="M291.8,189.2 291.8,201.3 293.3,209.2 300.9,219.2 313.1,222.9 319,222.6 319,218.2 319.8,218.2 320,221.9 325.2,222.8 330.3,221.9 332.9,225.4 336.4,237.5 339,244.4 339.9,251.3 338.1,256.5 337.3,263.4 339,270.3 345.9,284.1 347.6,291 350.2,296.2 354.5,297.6 361.5,296.2 366.6,292.7 371.8,287.6 377,280.7 382.2,266.8 383.9,259.9 384.8,253 383.9,246.1 385.6,237.5 399.4,218.5 401.2,215 400.2,214.8 402.6,208.8 388.9,209 388.9,206.9 388.5,206.9 383.1,197.1 379.7,189.5 374.9,181.6 374.3,180 376.2,180.1 381.5,189 384.7,196.6 389.8,206 402,202.5 410.1,195.3 416,188 416.1,182.4 425.1,182.4 431.2,187.7 435.8,190.8 438.8,198.3 440,205.7 440,216.1 443.2,216.1 446.5,213.7 449.3,206.3 453,199 457.9,192.5 462.2,189 466,188.5 470.9,192.6 474.6,199.8 483.1,221.8 486.3,228.3 488.7,229.1 487.9,225 482.6,212 481.5,206.4 483.9,205.5 487.4,207.1 488.7,212 491,214 495.9,208.5 496,200.7 493.6,195 494.6,193.5 494.9,193.6 494.9,196.3 498.8,196.3 498.8,192.7 496,192.7 495.9,192.4 499.3,191.2 505,188.5 511.5,184.4 513.9,177.9 514.4,175 518.2,175 523.3,171.2 525.3,175 529.8,172 533.6,166.7 539.2,163.5 544.8,158.8 550.1,151.3 549.5,150.7 553.8,148.5 552,142.9 550.3,142.6 551,138.2 549.2,126.9 546.3,126.9 546.3,136.3 546.8,142.2 544.3,141.8 546,139.1 543,132.6 539.2,126.9 540.7,123.2 546.3,116.1 569.2,116 570.8,111.1 584.3,110.4 591.9,111.1 598,116 610,116 610,94.4 581.3,96.7 573.7,95.2 552.5,92.2 543.4,92.2 529.7,94.4 522.1,89.9 513.2,90.6 513,88.1 508.6,88.1 502.5,85.3 491.9,82 481.3,80.8 469.1,84.6 458.5,86.1 449.4,89.9 440.3,89.9 431.2,90.6 425.1,92.9 404,96.7 379.7,97.8 372.1,95.2 361.5,93.2 350.9,94.4 339.8,100 343.2,100.2 327.7,112.5 328.2,115 327.6,119.3 332.5,118.4 335.4,120.1 332.9,121 333.1,127.1 330,128.2 322.8,132.9 322.3,131 322.3,118.3 321.6,121.1 318.8,116.9 310.5,118.2 310.5,122.5 313.1,128.2 311.3,134.7 316.9,135.3 321.5,135.1 318.8,136.6 311.8,137.9 315,140.4 316.9,144.1 315.9,147.3 305.1,147.3 305.1,160.1 310.1,162.3 300,164.8 300,175.9 294.9,180.1ZM528.5,160.7 527.6,151.3 543.5,142.9 544.4,142 544.5,148.5 545.9,149.9 541.1,154.7 535.1,159.8 526.8,165.5ZM397.3,173.4 397.5,173.1 402,174.5 406,177 410.9,180.9 410.5,185.8 406,183.5 401,179.5ZM395.8,145.1 396.8,141.3 401.4,140.7 403.3,146.9 406.8,154.4 405.1,160 399.5,159.1 397.7,150.7ZM364.3,147.1 367.6,142.8 375.1,141.7 382.6,143.2 386.7,146 382.6,150.7 375.1,152.2 365.8,150.7ZM319.5,158 319.5,155 324.4,150.5 324.5,147.9 330.8,147.9 334,145.7 342.6,152.6 344.5,157.2 339.6,157.5 339.6,160.5 344.7,160.5 344.7,158.1 349.4,153.7 341.3,147.1 339.6,143.9 341.6,143.4 350.9,152.2 353.5,158 356,161 358.4,158 357,153 362.3,154.1 364,160.1 368,161 377.5,160.7 376.8,165.7 374.5,170.6 369.8,171.4 356.9,170.4 351.8,169.5 350.2,172.4 337.2,166.7 336.4,160.1 315.6,160.1ZM356.2,116.9 356.1,115.6 368,116.1 367.8,116.9ZM355,103.9 360,107.1 357.1,112 354.1,115 350.1,114.1 349.1,104.6ZM346.9,116 352,115 355.9,117.1 355,124 351.1,127 343.9,126.9 343,121ZM322.9,116 322.4,117.9 325.7,114ZM587.4,320.4 588.9,322.6 593.4,318.9 598,315.8 604.1,312.8 607.1,309.7 608.6,303.7 604.1,299.1 596.5,296.1 599.5,305.2 598,311.2 591.9,315.8ZM570.4,130.7 572.6,133.5 578.3,128.8 583,121.3 584.8,116 578.3,115.7 576.7,116 577.6,116.3 570.8,123.2ZM501,280.6 501.8,290 505.5,290.1 504.8,296.1 506.3,299.1 513,300.6 513.1,296.1 528.2,293 535.8,294.6 540.3,299.1 543.3,300.6 544.9,303.7 549.4,305.2 561.6,302.1 564.6,296.1 566.1,290.1 568,290 566.1,280.6 561.6,274.5 552.9,260 547.5,260 547.1,263.8 543.4,264.6 539.6,262.4 539.4,260.1 541.2,260 540.3,253.2 529.3,253.2 529.2,259.9 522.2,260 519.1,262.4 513,268.4 512.9,270 508.6,270.7 503.3,273ZM532.9,233.1 532.9,239.5 536.6,245 543.9,250.5 551.2,254.1 560.4,256 565.9,252.3 563.1,243.2 554.9,237.7 543.9,232.2ZM550.2,309.7 551,314.3 554,316.1 558.5,315.1 558.5,309.4ZM472.5,225 474.9,231.6 477.4,240 483,240 496.4,247.2 500,248.2 500.1,240.1 530,240.1 530,232 529.9,240 503,239.9 508.2,238 511.6,229.9 511.6,220.2 508.2,218.5 501.7,221.8 495.4,228.3 496,236.4 501.2,239.6 501.1,240 492,240 479,225 473.6,220.7ZM513.4,196.6 513.1,203.9 513.9,213.7 516.4,221.8 521.2,221.8 523.2,213.7 523.2,202.3 519.6,195.8ZM513.4,183.3 513.9,189.1 516.7,189.1 516.7,183.3ZM448.8,212.2 448.8,219.8 452,219.8 452,212.2ZM332.3,156 335.7,156 335.7,148.1 332.3,148.1ZM302.4,124.4 302.4,131.9 309.8,131.9 309.8,124.4ZM279.7,103.5 280.4,108.4 288.8,110.4 297.9,108.9 297.9,103.5 288.8,102.3ZM288.8,103.9 293.8,105 291.7,106.9 285.8,106.9 283,104.9ZM49.3,108.1 52.3,111.2 50.8,116 80.5,116 89.3,117.1 98.1,118.9 106.9,122.4 115.7,131 120.7,139.2 118.3,156.2 125,167.7 125,174 131,174 141,186.5 142.5,186 134.2,174.2 137,174 145,181.3 148.8,188.8 150,193.8 155,197.5 161.8,199.7 160,200 160,203 171.2,205.1 190.4,214.2 188.5,222.4 187.5,232.5 188.5,240.7 192.6,250.8 198.7,256.9 202.7,263 205.8,271.2 205.8,281.3 203.8,299.8 200.8,300 197.9,320.4 197.6,328 199.4,334 205.5,338.6 211.5,340.1 216.1,337.4 213,335.5 210,331 213.1,320.4 222,308.2 222.1,306.8 228.1,306.7 231.1,300.6 232.2,300 239.3,285.4 243.4,279.3 249.5,275.2 253.6,269.1 255.6,261 260.7,252.8 263.8,246.7 263.8,241.7 257.7,237.6 249.5,235.6 241.4,232.5 237.3,223.4 233.2,218.3 225.1,214.2 217,212.2 208.8,211.2 200.7,212.2 190.5,214.2 188.5,209.1 182.4,201 178.6,200.6 181,200 180,192.5 178.8,190 175,190 170,195 166.3,195.7 163.8,193.8 161.3,188.8 160,180 161.4,174 185.9,174 188.5,182.5 190,183.3 190.7,179.4 189.2,173.8 193.9,161.3 197.3,156.4 202.3,151.4 218.7,139.8 221.7,135 222,147.9 231.1,143.3 236.4,141.8 235.7,134.2 231.1,129.7 226.6,122.8 222,122 222,118 216.6,118 216.4,117.1 206.1,114.6 199.1,114.9 211.2,112 217.4,107 220,103.4 215,98.4 205,93.4 192.5,88.9 180.3,86.8 185.4,81.8 192.5,78.4 205,80.8 222.6,85.3 227.8,89.6 230,94.6 230,92.9 230.4,92.8 234.1,102 237.9,108.1 241,116 247.8,116 252.4,111.9 260,108.1 272.1,100.5 285.8,96 291.8,89.9 291.8,82.3 293.3,77.8 297.9,73.9 285.8,72.4 267.5,71.4 252.4,70.9 237.2,71.4 230,71.9 229.8,72.3 209.5,69.8 194,69.8 176.8,72.3 147.6,78.4 133.8,80.1 120,82.7 120,86.1 119.1,86.8 117.3,93.2 119.9,93.2 120,94.3 106.9,97.8 97.8,97.8 90.2,95.4 82.6,95.4 64.4,94.1 56.1,95.4 50.8,99.3 50.8,103.6ZM166.2,104 166.5,101.6 171.6,96.5 176.8,93 179.4,88.3 176.8,89.6 166.6,90.4 164.9,87.9 176.8,86.1 179.9,87.6 178.5,99.9 180.1,109.7 186.3,112 198.8,114.8 194,115.4 193.9,118 190.6,118 191.8,125.1 191,132.7 186.5,132.6 185,126.6 176.6,125.9 169,123.6 167.9,118 165.6,117.8 165.6,104.3ZM154.4,82 170.2,80.2 168.6,79.2 180.2,76.7 181.8,78.2 173.1,80.6 176,81.5 175.9,81.9 154.6,84.4ZM159.5,92.2 165.9,94.8 157.9,96.5 149.3,95.5 149.4,93ZM135.6,90.4 134,87.8 151,86.1 160.3,87.8 151,89.6ZM219.4,205 222,205.5 222,204.4 222,204.4ZM199.7,192.8 199.7,195 202.3,196.9 208.2,196.6 208.7,193.4 205.4,191.9ZM182.1,187.5 182.1,189.1 189.7,190.3 194.4,191.9 199.1,192.8 199.7,191.1 186.6,186.4ZM192.1,197.3 194.7,197.2 194.7,195.6 192.1,195.9ZM171.6,108.5 173.4,112.8 180.3,112 178.5,107.1ZM28,97.8 28,105.8 45,109 47.4,105.4 44.7,102.3 34.1,98.7Z"/>
<path fill="none" stroke="#1a1a1a" stroke-width="0.85" d="M346.3,83.1 352.4,82.3 360,80.8 363,77 353.9,76.5 344.8,77 335.7,78.5 340.3,80.8Z"/>
<path fill="none" stroke="#1a1a1a" stroke-width="0.85" d="M410.1,92.2 416,88.4 416,83.1 410.1,85.3 403.2,89.9 402.5,94.4 405.5,96Z"/>
<path fill="none" stroke="#1a1a1a" stroke-width="0.85" d="M478.2,75 470.6,73.5 464.6,74.4 467.6,77 473.7,77.4 479.8,77.7Z"/>
<path fill="none" stroke="#1a1a1a" stroke-width="0.85" d="M425.1,77 425.1,73.9 416,74.7 416,77Z"/>
<path fill="none" stroke="#1a1a1a" stroke-width="0.85" d="M561.6,87.6 563.1,85.3 552.5,84.1 543.4,83.5 537.3,85 540.3,88.4 550.9,88.4Z"/>
<path fill="none" stroke="#1a1a1a" stroke-width="0.85" d="M179.6,142.1 183.4,140.3 181.2,137.3 175.1,136.5 170.2,138.8 170.5,140.3 175.1,140.3Z"/>
<path fill="none" stroke="#1a1a1a" stroke-width="0.85" d="M178.1,143.3 177.4,147.9 178.9,151.5 181.2,150.9 180.4,144.1Z"/>
<path fill="none" stroke="#1a1a1a" stroke-width="0.85" d="M182.7,143.3 183.4,147.9 187.2,148.8 189.5,146.4 187.2,143Z"/>
<path fill="none" stroke="#1a1a1a" stroke-width="0.85" d="M184.1,151.7 185.7,151.8 190.3,150.6 191.3,149.3 187.2,150.2Z"/>
<path fill="none" stroke="#1a1a1a" stroke-width="0.85" d="M196,147.1 193.3,146.5 190,147.9 194.1,148.5Z"/>
<path fill="none" stroke="#1a1a1a" stroke-width="0.85" d="M496.5,125.1 490.4,122.8 485.8,125.1 485.8,129.7 488.1,132.7 494.2,130.4Z"/>
<path fill="none" stroke="#1a1a1a" stroke-width="0.85" d="M447.1,143.3 446.4,141.1 438.8,141.8 440.3,144.1Z"/>
<path fill="none" stroke="#1a1a1a" stroke-width="0.85" d="M226.3,332.2 225.8,329.8 222,329.2 222,332.5Z"/>
<path fill="none" stroke="#1a1a1a" stroke-width="0.85" d="M433.5,328 433.5,325.2 428.9,325.2 429.4,328Z"/>
<path fill="none" stroke="#1a1a1a" stroke-width="0.85" d="M231,387 242.8,387 248.6,384.6 245.1,381.8 238.1,382.3Z"/>
<path fill="none" stroke="#1a1a1a" stroke-width="0.85" d="M62,385 60,383 55,384 57,386Z"/>
<path fill="none" stroke="#1a1a1a" stroke-width="0.85" d="M390.8,280.7 396,278.9 401.2,266.8 401.2,254.7 389.1,254.7 389.1,266.8Z"/>
<path fill="none" stroke="#1a1a1a" stroke-width="0.85" d="M567.7,241.3 568.6,245 575,248.7 580.5,250.5 580.5,246.8 573.2,242.3Z"/>
<path fill="none" stroke="#1a1a1a" stroke-width="0.85" d="M123.4,81.8 130.3,84.1 140.7,82.7 133.8,80.6Z"/>
<path fill="none" stroke="#1a1a1a" stroke-width="0.85" d="M137.2,79.2 138.9,81.3 149.3,81 147.5,78.4Z"/>
<path fill="none" stroke="#1a1a1a" stroke-width="0.85" d="M161.3,75.8 163,77.5 173.4,76.6 171.6,74.1Z"/>
<path fill="none" stroke="#1a1a1a" stroke-width="0.85" d="M169.9,87.8 171.6,90.4 176.8,89.6 175.1,87Z"/>
<path fill="none" stroke="#1a1a1a" stroke-width="0.85" d="M171.6,91.3 172.5,94.7 177.7,93.9 176.8,90.4Z"/>
<path fill="none" stroke="#1a1a1a" stroke-width="0.85" d="M163,96.5 163.9,99.9 169.1,99 168.2,95.6Z"/>
<path fill="none" stroke="#1a1a1a" stroke-width="0.85" d="M154.4,97.3 155.3,100.3 161.3,99.9 161.3,97.3Z"/>
<path fill="none" stroke="#1a1a1a" stroke-width="0.85" d="M142.4,93 142.7,96.1 147.9,95.6 147.5,92.7Z"/>
<path fill="none" stroke="#1a1a1a" stroke-width="0.85" d="M130.3,103.4 132.1,105.9 138.9,105.1 137.2,102.5Z"/>
<path fill="none" stroke="#1a1a1a" stroke-width="0.85" d="M126.9,108.5 128.6,112 135.5,111.1 133.8,107.7Z"/>
<path fill="none" stroke="#1a1a1a" stroke-width="0.85" d="M182,105.1 182.8,108.5 188.9,107.7 187.1,104.2Z"/>
<path fill="none" stroke="#1a1a1a" stroke-width="0.85" d="M202.6,103.4 204.4,107.7 211.2,108.5 209.5,105.1Z"/>
<path fill="none" stroke="#1a1a1a" stroke-width="0.85" d="M206.1,110.2 206.9,112.8 213.8,113.7 213,111.1Z"/>
<path fill="none" stroke="#1a1a1a" stroke-width="0.85" d="M185.4,96.5 186.3,99.9 192.3,99 190.6,95.6Z"/>
<path fill="none" stroke="#1a1a1a" stroke-width="0.85" d="M197.5,94.7 196.6,97.3 200.9,98.2 202.6,95.6Z"/>
<path fill="none" stroke="#1a1a1a" stroke-width="0.85" d="M182,74.9 183.7,77.2 190.6,75.8 188.9,73.2Z"/>
<path fill="none" stroke="#1a1a1a" stroke-width="0.85" d="M195.7,74.1 196.6,76.6 201.8,75.8 200.9,73.2Z"/>
<path fill="none" stroke="#1a1a1a" stroke-width="0.85" d="M206.1,75.8 206.9,78.2 213.8,77.5 213,75.4Z"/>
<path fill="none" stroke="#1a1a1a" stroke-width="0.85" d="M352,77 345,76 337,77 341,82 348,81Z"/>
<path fill="none" stroke="#1a1a1a" stroke-width="0.85" d="M360,75 352,76 355,80 362,78Z"/>
<path fill="none" stroke="#1a1a1a" stroke-width="0.85" d="M351,81 346,82 347,85 352,84Z"/>
<path fill="none" stroke="#1a1a1a" stroke-width="0.85" d="M400,74.5 392,75 398,77 404,76Z"/>
<path fill="none" stroke="#1a1a1a" stroke-width="0.85" d="M414,73.5 405,74 410,76.5 418,75Z"/>
<path fill="none" stroke="#1a1a1a" stroke-width="0.85" d="M426,74.5 420,75 422,77 428,76.5Z"/>
<path fill="none" stroke="#1a1a1a" stroke-width="0.85" d="M595.2,126 591.4,123.5 585.8,123.2 589.5,126.5Z"/>
<path fill="none" stroke="#1a1a1a" stroke-width="0.85" d="M602.7,130.7 602.7,129.2 597,128.8 597.4,130.7Z"/>
<path fill="none" stroke="#1a1a1a" stroke-width="0.85" d="M244.8,72.4 259.9,72 275.1,72.4 290.3,73.2"/>
<path fill="none" stroke="#1a1a1a" stroke-width="0.85" d="M249.3,73.9 261.5,73.2 272.1,73.6"/>
<path fill="none" stroke="#1a1a1a" stroke-width="0.85" d="M282.7,74.7 288.8,76.2 291.8,79.3"/>
<path fill="none" stroke="#1a1a1a" stroke-width="0.85" d="M28,131.9 37.1,130.4 50.8,126.6 62.9,122.1 73.5,118.3 78.1,116"/>
<path fill="none" stroke="#1a1a1a" stroke-width="0.85" d="M73.5,118.7 79.6,117.2 85.7,116.3"/>
<path fill="none" stroke="#1a1a1a" stroke-width="0.85" d="M28,394.4 41.7,395.3 62.3,396.4 73.7,396 94.3,395.5"/>
<path fill="none" stroke="#1a1a1a" stroke-width="0.85" d="M73.7,396 71.4,392.6 69.1,389.1 73.7,388 82.8,386.8 82.8,384.6 73.7,383.4 65.7,382.3 64.6,380.4 73.7,380 77.1,378.8 82.8,377.7 94.3,375.9 105.7,375 114.8,373.6 124,374.3 133.1,375 140,375.9 146.8,376.6 155.9,376.6 158.2,374.3 152.5,372 160.5,370.8 165.1,372 174,372 179.4,372.4 188.8,373.3 193.5,371.7 198.2,369.3 205.2,364.6 209.9,361.1 214.6,357.6 219.3,355.3 226.3,352.9 229.9,350.6"/>
<path fill="none" stroke="#1a1a1a" stroke-width="0.85" d="M229.9,350.6 224,354.1 219.3,358.8 216.9,363.5 219.3,368.2 220.5,372.9 214.6,376.4 205.2,377.6 195.8,378"/>
<path fill="none" stroke="#1a1a1a" stroke-width="0.85" d="M184.1,382.3 193.5,384.6 205.2,385.8 216.9,387 224,390.5 231,389.3 240.4,388.1 252.2,387 263.9,385.8 273.3,384.6 268.6,383.4 261.5,382.3 270.9,380.4 282.7,377.6 292.1,375.2 299.1,371.7 308.5,369.3 320,368.6 328.1,367.9 337.3,367.4 346.4,366.7 355.6,367.4 364.7,366.7 373.8,363.5 380.7,366.3 385.3,364 394.4,362.2 401.2,360.1 405.8,358.3 410.4,359.4 415,361 424.1,362.2 432.1,362.8 431,366.3 428.7,369.7 431,371.5 435.5,369.7 437.8,366.3 447,364 456.1,361.7 465,359.4 472.3,360.3 481.7,358 491,359.1 500.3,358.2 509.6,360.5 521.3,359.8 528.3,358.7 536.4,357.5 544.6,359.4 556.3,361.5 567.9,363.8 579.6,366.8 588.9,368.4 594.7,369.8 591.2,372.6 584.2,375 581.9,378.5 586.6,380.8 584.2,383.1 577.2,385.5 574.9,386.6 579.6,389 588.9,391.8 602.9,393.6 609.9,394.1"/>
<path fill="none" stroke="#1a1a1a" stroke-width="0.85" d="M192.3,78.5 200.9,79.2 209.5,81.8 216.4,83.5 222.6,85.3"/>
</g>
<g id="grid" fill="#a4a4a4">
<rect x="125" y="58" width="1" height="347"/>
<rect x="222" y="58" width="1" height="347"/>
<rect x="319" y="58" width="1" height="347"/>
<rect x="416" y="58" width="1" height="347"/>
<rect x="513" y="58" width="1" height="347"/>
<rect x="29" y="115" width="581" height="1"/>
<rect x="29" y="173" width="581" height="1"/>
<rect x="29" y="231" width="581" height="1"/>
<rect x="29" y="289" width="581" height="1"/>
<rect x="29" y="347" width="581" height="1"/>
</g>
<g id="frame" fill="#3c3c3c">
<rect x="28" y="57.5" width="582" height="1"/>
<rect x="28" y="404.3" width="582" height="1.2"/>
<rect x="28" y="57.5" width="1.1" height="347.8"/>
<rect x="609" y="57.5" width="1.1" height="347.8"/>
</g>
<g id="ticks" fill="#9a9a9a">
<rect x="25" y="57.5" width="3" height="1"/><rect x="25" y="115" width="3" height="1"/><rect x="25" y="173" width="3" height="1"/><rect x="25" y="231" width="3" height="1"/><rect x="25" y="289" width="3" height="1"/><rect x="25" y="347" width="3" height="1"/><rect x="25" y="404.5" width="3" height="1"/>
<rect x="28.5" y="406" width="1" height="3"/><rect x="125" y="406" width="1" height="3"/><rect x="222" y="406" width="1" height="3"/><rect x="319" y="406" width="1" height="3"/><rect x="416" y="406" width="1" height="3"/><rect x="513" y="406" width="1" height="3"/><rect x="609.5" y="406" width="1" height="3"/>
</g>
<g id="ylab" fill="#4a4a4a" stroke="#fff" stroke-width="0.22" font-size="10">
<text x="8.4" y="61.5" textLength="15.2" lengthAdjust="spacingAndGlyphs">90N</text>
<text x="8.4" y="119.5" textLength="15.2" lengthAdjust="spacingAndGlyphs">60N</text>
<text x="8.4" y="177.5" textLength="15.2" lengthAdjust="spacingAndGlyphs">30N</text>
<text x="13.6" y="235.5" textLength="10.0" lengthAdjust="spacingAndGlyphs">EQ</text>
<text x="9.2" y="293.5" textLength="14.4" lengthAdjust="spacingAndGlyphs">30S</text>
<text x="9.2" y="351.5" textLength="14.4" lengthAdjust="spacingAndGlyphs">60S</text>
<text x="9.2" y="409.0" textLength="14.4" lengthAdjust="spacingAndGlyphs">90S</text>
</g>
<g id="xlab" fill="#4a4a4a" stroke="#fff" stroke-width="0.22" font-size="9.9" text-anchor="middle">
<text x="29.00" y="415.9" textLength="13.2" lengthAdjust="spacingAndGlyphs">180</text>
<text x="125.85" y="415.9" textLength="19.9" lengthAdjust="spacingAndGlyphs">120W</text>
<text x="222.80" y="415.9" textLength="16.4" lengthAdjust="spacingAndGlyphs">60W</text>
<text x="319.50" y="415.9" textLength="5.2" lengthAdjust="spacingAndGlyphs">0</text>
<text x="416.50" y="415.9" textLength="15.8" lengthAdjust="spacingAndGlyphs">60E</text>
<text x="513.50" y="415.9" textLength="19.4" lengthAdjust="spacingAndGlyphs">120E</text>
<text x="610.15" y="415.9" textLength="13.1" lengthAdjust="spacingAndGlyphs">180</text>
</g>
<text x="29" y="428.8" fill="#ff5555" stroke="#fff" stroke-width="0.28" font-size="9.2" textLength="265.5" lengthAdjust="spacingAndGlyphs">(c) GPCC 2025/05/05 number of stations: 7216 global</text>
<g id="cbar">
<rect x="87" y="437" width="46.5" height="11" fill="#ff0000"/>
<rect x="133.5" y="437" width="46.5" height="11" fill="#ff6400"/>
<rect x="180" y="437" width="46.5" height="11" fill="#ff9600"/>
<rect x="226.5" y="437" width="46.5" height="11" fill="#ffc800"/>
<rect x="273" y="437" width="46.5" height="11" fill="#dcdcdc"/>
<rect x="319.5" y="437" width="46.5" height="11" fill="#aaaaaa"/>
<rect x="366" y="437" width="46.5" height="11" fill="#00c8ff"/>
<rect x="412.5" y="437" width="46.5" height="11" fill="#0096ff"/>
<rect x="459" y="437" width="46.5" height="11" fill="#0064ff"/>
<rect x="505.5" y="437" width="46.5" height="11" fill="#0000dc"/>
</g>
<g id="cblab" fill="#555" stroke="#fff" stroke-width="0.32" font-size="12" text-anchor="middle" letter-spacing="0.5">
<text x="133.5" y="460.2">&#8722;100</text>
<text x="180" y="460.2">&#8722;75</text>
<text x="226.5" y="460.2">&#8722;50</text>
<text x="273" y="460.2">&#8722;25</text>
<text x="319.5" y="460.2">0</text>
<text x="366" y="460.2">25</text>
<text x="412.5" y="460.2">50</text>
<text x="459" y="460.2">75</text>
<text x="505.5" y="460.2">100</text>
</g>
</svg>
</body></html>
